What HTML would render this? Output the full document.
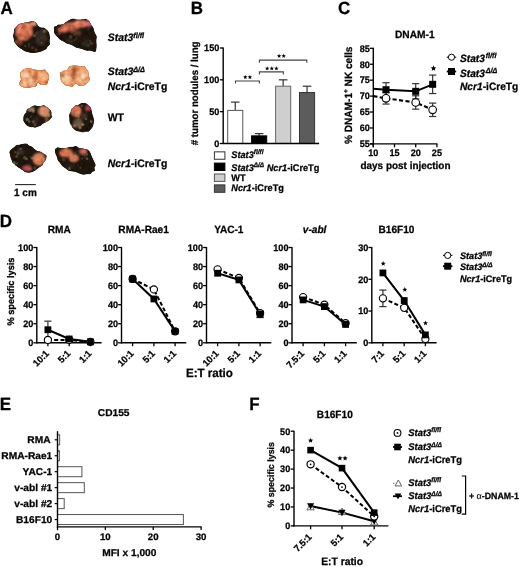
<!DOCTYPE html>
<html><head><meta charset="utf-8"><style>
html,body{margin:0;padding:0;background:#fff;width:520px;height:567px;overflow:hidden}
svg{display:block}
svg text{stroke:#000;stroke-width:0.25px;stroke-linejoin:round}
</style></head><body>
<svg width="520" height="567" viewBox="0 0 520 567" font-family='"Liberation Sans", sans-serif' text-rendering="geometricPrecision">
<rect width="520" height="567" fill="#fff"/>
<defs><filter id="soft" x="0" y="0" width="520" height="567" filterUnits="userSpaceOnUse"><feGaussianBlur stdDeviation="0.35"/></filter></defs>
<g filter="url(#soft)">
<text transform="translate(0.60,13.60) scale(1.0,1.04)" font-size="17" text-anchor="start" font-weight="bold" fill="#000">A</text>
<text transform="translate(190.80,13.70) scale(1.0,1.04)" font-size="17" text-anchor="start" font-weight="bold" fill="#000">B</text>
<text transform="translate(338.00,13.70) scale(1.0,1.04)" font-size="17" text-anchor="start" font-weight="bold" fill="#000">C</text>
<text transform="translate(-0.30,227.20) scale(1.0,1.04)" font-size="17" text-anchor="start" font-weight="bold" fill="#000">D</text>
<text transform="translate(-0.30,410.30) scale(1.0,1.04)" font-size="17" text-anchor="start" font-weight="bold" fill="#000">E</text>
<text transform="translate(249.20,410.20) scale(1.0,1.04)" font-size="17" text-anchor="start" font-weight="bold" fill="#000">F</text>
<defs><filter id="tex" x="0" y="0" width="110" height="190" filterUnits="userSpaceOnUse"><feTurbulence type="fractalNoise" baseFrequency="0.22" numOctaves="2" seed="5" result="n"/><feColorMatrix in="n" type="matrix" values="1 0 0 0 0  1 0 0 0 0  1 0 0 0 0  0 0 0 0 1" result="g"/><feComposite in="SourceGraphic" in2="g" operator="arithmetic" k1="1.1" k2="0.45" k3="0" k4="0" result="m"/><feComposite in="m" in2="SourceAlpha" operator="in"/></filter></defs>
<defs><filter id="lb" x="-30%" y="-30%" width="160%" height="160%"><feGaussianBlur stdDeviation="1.1"/></filter><filter id="lb2" x="-10%" y="-10%" width="120%" height="120%"><feGaussianBlur stdDeviation="0.45"/></filter><filter id="lb3" x="-50%" y="-50%" width="200%" height="200%"><feGaussianBlur stdDeviation="0.35"/></filter><filter id="lb4" x="-50%" y="-50%" width="200%" height="200%"><feGaussianBlur stdDeviation="0.6"/></filter></defs>
<clipPath id="lc0"><path d="M12.99,35.99 C13.00,34.97 13.52,33.70 13.72,32.51 C13.92,31.33 13.76,29.83 14.19,28.88 C14.62,27.94 15.69,27.55 16.31,26.84 C16.93,26.12 17.22,25.12 17.90,24.58 C18.59,24.04 19.53,23.84 20.43,23.58 C21.32,23.32 22.34,23.22 23.28,23.01 C24.21,22.80 25.10,22.52 26.05,22.32 C27.00,22.11 28.22,22.02 29.00,21.79 C29.78,21.57 30.16,21.08 30.74,20.96 C31.32,20.85 31.89,21.02 32.47,21.09 C33.04,21.17 33.63,21.23 34.19,21.40 C34.75,21.58 35.34,21.84 35.82,22.17 C36.31,22.51 36.71,22.85 37.08,23.41 C37.45,23.97 37.47,24.90 38.04,25.54 C38.61,26.17 39.47,26.87 40.52,27.25 C41.57,27.62 43.30,27.36 44.34,27.79 C45.38,28.23 46.01,29.17 46.76,29.87 C47.50,30.57 48.34,31.14 48.83,31.99 C49.32,32.85 49.48,34.01 49.69,35.00 C49.90,35.99 50.09,36.92 50.08,37.93 C50.07,38.94 49.68,39.96 49.65,41.05 C49.62,42.13 50.22,43.52 49.90,44.45 C49.58,45.38 48.36,45.85 47.73,46.64 C47.10,47.42 46.91,48.49 46.15,49.16 C45.38,49.84 44.17,50.23 43.14,50.71 C42.12,51.18 41.17,51.67 40.00,52.00 C38.83,52.34 37.44,52.56 36.11,52.73 C34.77,52.89 33.36,53.06 32.00,52.99 C30.64,52.93 29.27,52.69 27.95,52.34 C26.62,51.99 25.25,51.49 24.05,50.89 C22.85,50.30 21.81,49.51 20.74,48.76 C19.67,48.02 18.47,47.20 17.61,46.41 C16.76,45.62 16.22,44.85 15.61,44.02 C15.01,43.19 14.30,42.33 13.98,41.44 C13.66,40.55 13.85,39.59 13.68,38.68 C13.52,37.77 12.99,37.02 12.99,35.99 Z"/></clipPath>
<g filter="url(#lb2)"><g filter="url(#tex)"><path d="M12.99,35.99 C13.00,34.97 13.52,33.70 13.72,32.51 C13.92,31.33 13.76,29.83 14.19,28.88 C14.62,27.94 15.69,27.55 16.31,26.84 C16.93,26.12 17.22,25.12 17.90,24.58 C18.59,24.04 19.53,23.84 20.43,23.58 C21.32,23.32 22.34,23.22 23.28,23.01 C24.21,22.80 25.10,22.52 26.05,22.32 C27.00,22.11 28.22,22.02 29.00,21.79 C29.78,21.57 30.16,21.08 30.74,20.96 C31.32,20.85 31.89,21.02 32.47,21.09 C33.04,21.17 33.63,21.23 34.19,21.40 C34.75,21.58 35.34,21.84 35.82,22.17 C36.31,22.51 36.71,22.85 37.08,23.41 C37.45,23.97 37.47,24.90 38.04,25.54 C38.61,26.17 39.47,26.87 40.52,27.25 C41.57,27.62 43.30,27.36 44.34,27.79 C45.38,28.23 46.01,29.17 46.76,29.87 C47.50,30.57 48.34,31.14 48.83,31.99 C49.32,32.85 49.48,34.01 49.69,35.00 C49.90,35.99 50.09,36.92 50.08,37.93 C50.07,38.94 49.68,39.96 49.65,41.05 C49.62,42.13 50.22,43.52 49.90,44.45 C49.58,45.38 48.36,45.85 47.73,46.64 C47.10,47.42 46.91,48.49 46.15,49.16 C45.38,49.84 44.17,50.23 43.14,50.71 C42.12,51.18 41.17,51.67 40.00,52.00 C38.83,52.34 37.44,52.56 36.11,52.73 C34.77,52.89 33.36,53.06 32.00,52.99 C30.64,52.93 29.27,52.69 27.95,52.34 C26.62,51.99 25.25,51.49 24.05,50.89 C22.85,50.30 21.81,49.51 20.74,48.76 C19.67,48.02 18.47,47.20 17.61,46.41 C16.76,45.62 16.22,44.85 15.61,44.02 C15.01,43.19 14.30,42.33 13.98,41.44 C13.66,40.55 13.85,39.59 13.68,38.68 C13.52,37.77 12.99,37.02 12.99,35.99 Z" fill="#1e140e"/>
<g clip-path="url(#lc0)"><g filter="url(#lb)">
<ellipse cx="24" cy="31" rx="9" ry="9.5" fill="#e87a5c" opacity="0.95"/>
<ellipse cx="33.5" cy="23.5" rx="3.5" ry="2.6" fill="#f09a78" opacity="0.9"/>
<ellipse cx="19" cy="42" rx="4" ry="3" fill="#9a5236" opacity="0.7"/>
<ellipse cx="26" cy="37" rx="3" ry="1.2" fill="#6a3020" opacity="0.5"/>
<ellipse cx="41" cy="38" rx="6" ry="8" fill="#3a3426" opacity="0.7"/>
<ellipse cx="45" cy="31" rx="2.5" ry="2" fill="#5e5638" opacity="0.5"/>
<ellipse cx="22" cy="28" rx="0.9" ry="4" fill="#4a2418" opacity="0.55" transform="rotate(30 22 28)"/>
<ellipse cx="28.5" cy="34" rx="0.9" ry="4" fill="#4a2418" opacity="0.55" transform="rotate(-20 28.5 34)"/>
<ellipse cx="19" cy="36" rx="3" ry="0.9" fill="#4a2418" opacity="0.5" transform="rotate(10 19 36)"/>
<ellipse cx="20" cy="29.5" rx="2" ry="1.5" fill="#f8b090" opacity="0.7"/>
<ellipse cx="27" cy="26" rx="2" ry="1.4" fill="#f4a080" opacity="0.6"/>
</g>
<g filter="url(#lb4)">
<circle cx="25.7" cy="26.8" r="1.45" fill="#8a7a58" opacity="0.27"/>
<circle cx="32.9" cy="33.0" r="0.86" fill="#8a7a58" opacity="0.38"/>
<circle cx="16.1" cy="34.9" r="0.87" fill="#8a7a58" opacity="0.27"/>
<circle cx="29.1" cy="46.2" r="0.92" fill="#8a7a58" opacity="0.31"/>
<circle cx="36.0" cy="49.7" r="1.38" fill="#8a7a58" opacity="0.35"/>
<circle cx="43.8" cy="30.8" r="0.94" fill="#8a7a58" opacity="0.28"/>
<circle cx="25.2" cy="45.9" r="0.98" fill="#8a7a58" opacity="0.40"/>
<circle cx="36.4" cy="33.2" r="1.35" fill="#8a7a58" opacity="0.27"/>
<circle cx="16.8" cy="28.4" r="1.48" fill="#8a7a58" opacity="0.36"/>
<circle cx="25.4" cy="39.3" r="1.25" fill="#8a7a58" opacity="0.32"/>
<circle cx="41.7" cy="42.6" r="1.04" fill="#8a7a58" opacity="0.39"/>
<circle cx="32.6" cy="47.6" r="1.53" fill="#8a7a58" opacity="0.32"/>
<circle cx="28.9" cy="44.2" r="0.95" fill="#8a7a58" opacity="0.37"/>
<circle cx="16.1" cy="41.7" r="1.56" fill="#8a7a58" opacity="0.39"/>
<circle cx="44.4" cy="31.5" r="1.50" fill="#8a7a58" opacity="0.40"/>
<circle cx="34.4" cy="35.6" r="1.64" fill="#8a7a58" opacity="0.49"/>
</g>
</g></g></g>
<clipPath id="lc1"><path d="M53.89,26.90 C53.49,27.59 53.96,29.11 54.04,30.21 C54.11,31.31 53.86,32.43 54.36,33.51 C54.85,34.60 56.08,35.68 57.01,36.72 C57.94,37.76 58.87,38.95 59.92,39.76 C60.97,40.57 62.21,40.97 63.31,41.59 C64.42,42.22 65.13,42.91 66.55,43.52 C67.96,44.12 70.07,44.47 71.80,45.21 C73.53,45.95 75.27,47.33 76.91,47.96 C78.54,48.58 80.00,48.48 81.62,48.96 C83.24,49.44 85.11,50.49 86.62,50.82 C88.13,51.14 89.21,50.71 90.69,50.89 C92.16,51.06 94.50,52.21 95.46,51.87 C96.42,51.52 96.24,49.90 96.44,48.81 C96.65,47.72 96.71,46.68 96.71,45.33 C96.70,43.97 96.42,42.22 96.42,40.67 C96.42,39.13 97.01,37.48 96.71,36.06 C96.42,34.64 95.18,33.46 94.68,32.15 C94.17,30.84 94.23,29.44 93.69,28.21 C93.14,26.98 92.12,25.90 91.42,24.76 C90.73,23.63 90.13,22.20 89.52,21.39 C88.92,20.58 88.44,20.35 87.80,19.90 C87.17,19.44 86.64,18.77 85.70,18.66 C84.75,18.54 83.27,19.07 82.14,19.21 C81.00,19.35 79.90,19.50 78.88,19.49 C77.86,19.48 77.00,19.35 76.00,19.18 C75.01,19.00 73.92,18.37 72.91,18.43 C71.90,18.50 70.86,19.13 69.93,19.57 C69.01,20.00 68.16,20.56 67.35,21.05 C66.54,21.53 65.79,21.97 65.07,22.48 C64.34,22.99 63.73,23.76 63.00,24.11 C62.26,24.46 61.58,24.48 60.67,24.58 C59.75,24.69 58.22,24.48 57.52,24.73 C56.82,24.97 57.08,25.69 56.48,26.05 C55.87,26.42 54.30,26.21 53.89,26.90 Z"/></clipPath>
<g filter="url(#lb2)"><g filter="url(#tex)"><path d="M53.89,26.90 C53.49,27.59 53.96,29.11 54.04,30.21 C54.11,31.31 53.86,32.43 54.36,33.51 C54.85,34.60 56.08,35.68 57.01,36.72 C57.94,37.76 58.87,38.95 59.92,39.76 C60.97,40.57 62.21,40.97 63.31,41.59 C64.42,42.22 65.13,42.91 66.55,43.52 C67.96,44.12 70.07,44.47 71.80,45.21 C73.53,45.95 75.27,47.33 76.91,47.96 C78.54,48.58 80.00,48.48 81.62,48.96 C83.24,49.44 85.11,50.49 86.62,50.82 C88.13,51.14 89.21,50.71 90.69,50.89 C92.16,51.06 94.50,52.21 95.46,51.87 C96.42,51.52 96.24,49.90 96.44,48.81 C96.65,47.72 96.71,46.68 96.71,45.33 C96.70,43.97 96.42,42.22 96.42,40.67 C96.42,39.13 97.01,37.48 96.71,36.06 C96.42,34.64 95.18,33.46 94.68,32.15 C94.17,30.84 94.23,29.44 93.69,28.21 C93.14,26.98 92.12,25.90 91.42,24.76 C90.73,23.63 90.13,22.20 89.52,21.39 C88.92,20.58 88.44,20.35 87.80,19.90 C87.17,19.44 86.64,18.77 85.70,18.66 C84.75,18.54 83.27,19.07 82.14,19.21 C81.00,19.35 79.90,19.50 78.88,19.49 C77.86,19.48 77.00,19.35 76.00,19.18 C75.01,19.00 73.92,18.37 72.91,18.43 C71.90,18.50 70.86,19.13 69.93,19.57 C69.01,20.00 68.16,20.56 67.35,21.05 C66.54,21.53 65.79,21.97 65.07,22.48 C64.34,22.99 63.73,23.76 63.00,24.11 C62.26,24.46 61.58,24.48 60.67,24.58 C59.75,24.69 58.22,24.48 57.52,24.73 C56.82,24.97 57.08,25.69 56.48,26.05 C55.87,26.42 54.30,26.21 53.89,26.90 Z" fill="#1e140e"/>
<g clip-path="url(#lc1)"><g filter="url(#lb)">
<ellipse cx="70" cy="27" rx="9" ry="4.8" fill="#e87458" opacity="0.9"/>
<ellipse cx="80" cy="24" rx="8" ry="4" fill="#ec7e5e" opacity="0.9"/>
<ellipse cx="62" cy="30" rx="4.5" ry="3" fill="#e06c50" opacity="0.85"/>
<ellipse cx="88.5" cy="23.5" rx="3.6" ry="3.4" fill="#e06a80" opacity="0.85"/>
<ellipse cx="77" cy="33" rx="5" ry="2.6" fill="#7e4430" opacity="0.6"/>
<ellipse cx="70" cy="41" rx="4" ry="2" fill="#4a4030" opacity="0.6"/>
<ellipse cx="86" cy="43" rx="5" ry="3" fill="#3e4030" opacity="0.6"/>
<ellipse cx="66" cy="25" rx="0.9" ry="3" fill="#3a2018" opacity="0.6" transform="rotate(20 66 25)"/>
<ellipse cx="74" cy="27" rx="1" ry="3.5" fill="#3a2018" opacity="0.6" transform="rotate(-25 74 27)"/>
<ellipse cx="82" cy="25.5" rx="0.9" ry="3" fill="#3a2018" opacity="0.55" transform="rotate(15 82 25.5)"/>
<ellipse cx="70" cy="31" rx="3" ry="0.9" fill="#3a2018" opacity="0.5"/>
<ellipse cx="77" cy="22" rx="2" ry="1.2" fill="#f8a888" opacity="0.65"/>
<ellipse cx="64" cy="28.5" rx="1.6" ry="1.2" fill="#f49a78" opacity="0.6"/>
</g>
<g filter="url(#lb4)">
<circle cx="74.8" cy="39.9" r="0.86" fill="#7a7050" opacity="0.43"/>
<circle cx="88.4" cy="29.0" r="1.19" fill="#7a7050" opacity="0.42"/>
<circle cx="57.2" cy="34.1" r="0.97" fill="#7a7050" opacity="0.28"/>
<circle cx="61.3" cy="27.9" r="1.19" fill="#7a7050" opacity="0.47"/>
<circle cx="59.4" cy="33.7" r="1.35" fill="#7a7050" opacity="0.47"/>
<circle cx="88.3" cy="45.7" r="1.08" fill="#7a7050" opacity="0.35"/>
<circle cx="63.2" cy="27.5" r="1.03" fill="#7a7050" opacity="0.37"/>
<circle cx="79.3" cy="28.4" r="0.80" fill="#7a7050" opacity="0.35"/>
<circle cx="70.7" cy="37.1" r="1.75" fill="#7a7050" opacity="0.42"/>
<circle cx="76.4" cy="38.6" r="1.48" fill="#7a7050" opacity="0.26"/>
<circle cx="91.4" cy="43.3" r="1.67" fill="#7a7050" opacity="0.45"/>
<circle cx="71.6" cy="32.3" r="0.90" fill="#7a7050" opacity="0.41"/>
<circle cx="64.4" cy="25.5" r="1.14" fill="#7a7050" opacity="0.26"/>
<circle cx="60.3" cy="31.3" r="0.83" fill="#7a7050" opacity="0.47"/>
<circle cx="80.2" cy="25.1" r="1.05" fill="#7a7050" opacity="0.34"/>
<circle cx="70.5" cy="24.3" r="1.65" fill="#7a7050" opacity="0.50"/>
<circle cx="74.5" cy="34.7" r="0.89" fill="#7a7050" opacity="0.28"/>
<circle cx="69.7" cy="28.4" r="1.63" fill="#7a7050" opacity="0.29"/>
<circle cx="76.9" cy="25.0" r="1.34" fill="#7a7050" opacity="0.26"/>
<circle cx="90.0" cy="40.9" r="1.06" fill="#7a7050" opacity="0.34"/>
</g>
</g></g></g>
<clipPath id="lc2"><path d="M19.87,73.22 C19.71,74.05 20.13,75.34 20.30,76.38 C20.47,77.41 21.01,78.46 20.88,79.45 C20.76,80.44 19.78,81.43 19.54,82.33 C19.29,83.24 19.15,84.16 19.40,84.86 C19.65,85.56 20.33,86.07 21.03,86.51 C21.73,86.95 22.72,87.26 23.61,87.51 C24.50,87.76 25.41,87.92 26.38,88.01 C27.36,88.11 28.45,88.25 29.47,88.07 C30.49,87.89 31.45,87.20 32.49,86.95 C33.53,86.70 34.95,86.95 35.70,86.57 C36.45,86.19 36.62,85.35 36.99,84.68 C37.37,84.00 37.44,82.62 37.94,82.55 C38.45,82.48 39.49,83.84 40.01,84.25 C40.53,84.66 40.43,84.91 41.06,84.99 C41.68,85.07 42.82,84.79 43.78,84.71 C44.74,84.63 46.13,85.01 46.83,84.51 C47.54,84.01 47.69,82.63 48.02,81.70 C48.35,80.78 48.59,79.93 48.81,78.97 C49.04,78.01 49.48,76.91 49.35,75.94 C49.23,74.98 48.57,73.89 48.06,73.15 C47.56,72.41 46.84,72.10 46.33,71.49 C45.83,70.88 45.88,69.76 45.03,69.50 C44.18,69.24 42.42,69.84 41.22,69.94 C40.02,70.04 38.89,70.18 37.82,70.12 C36.76,70.07 35.82,69.83 34.85,69.61 C33.88,69.39 32.91,69.05 31.99,68.79 C31.07,68.53 30.16,68.15 29.32,68.04 C28.47,67.94 27.73,68.05 26.93,68.16 C26.14,68.26 25.29,68.42 24.57,68.67 C23.85,68.92 23.17,69.21 22.62,69.67 C22.07,70.14 21.73,70.85 21.27,71.44 C20.81,72.03 20.03,72.40 19.87,73.22 Z"/></clipPath>
<g filter="url(#lb2)"><g filter="url(#tex)"><path d="M19.87,73.22 C19.71,74.05 20.13,75.34 20.30,76.38 C20.47,77.41 21.01,78.46 20.88,79.45 C20.76,80.44 19.78,81.43 19.54,82.33 C19.29,83.24 19.15,84.16 19.40,84.86 C19.65,85.56 20.33,86.07 21.03,86.51 C21.73,86.95 22.72,87.26 23.61,87.51 C24.50,87.76 25.41,87.92 26.38,88.01 C27.36,88.11 28.45,88.25 29.47,88.07 C30.49,87.89 31.45,87.20 32.49,86.95 C33.53,86.70 34.95,86.95 35.70,86.57 C36.45,86.19 36.62,85.35 36.99,84.68 C37.37,84.00 37.44,82.62 37.94,82.55 C38.45,82.48 39.49,83.84 40.01,84.25 C40.53,84.66 40.43,84.91 41.06,84.99 C41.68,85.07 42.82,84.79 43.78,84.71 C44.74,84.63 46.13,85.01 46.83,84.51 C47.54,84.01 47.69,82.63 48.02,81.70 C48.35,80.78 48.59,79.93 48.81,78.97 C49.04,78.01 49.48,76.91 49.35,75.94 C49.23,74.98 48.57,73.89 48.06,73.15 C47.56,72.41 46.84,72.10 46.33,71.49 C45.83,70.88 45.88,69.76 45.03,69.50 C44.18,69.24 42.42,69.84 41.22,69.94 C40.02,70.04 38.89,70.18 37.82,70.12 C36.76,70.07 35.82,69.83 34.85,69.61 C33.88,69.39 32.91,69.05 31.99,68.79 C31.07,68.53 30.16,68.15 29.32,68.04 C28.47,67.94 27.73,68.05 26.93,68.16 C26.14,68.26 25.29,68.42 24.57,68.67 C23.85,68.92 23.17,69.21 22.62,69.67 C22.07,70.14 21.73,70.85 21.27,71.44 C20.81,72.03 20.03,72.40 19.87,73.22 Z" fill="#e89868"/>
<g clip-path="url(#lc2)"><g filter="url(#lb)">
<ellipse cx="25" cy="75" rx="4" ry="3.5" fill="#fcd8b8" opacity="0.85"/>
<ellipse cx="36" cy="76" rx="2.5" ry="5" fill="#b04c20" opacity="0.65"/>
<ellipse cx="43" cy="76" rx="3.5" ry="3" fill="#f8c8a0" opacity="0.75"/>
<ellipse cx="24" cy="84" rx="3" ry="2" fill="#f8d0ac" opacity="0.75"/>
<ellipse cx="31" cy="82" rx="3" ry="3" fill="#fcd8b8" opacity="0.6"/>
<ellipse cx="46" cy="82" rx="2" ry="2" fill="#b85020" opacity="0.6"/>
<ellipse cx="29" cy="71" rx="3" ry="2" fill="#c8602e" opacity="0.55"/>
<ellipse cx="38" cy="85" rx="2.5" ry="2" fill="#a84820" opacity="0.6"/>
<ellipse cx="21" cy="79" rx="1.5" ry="3" fill="#c06030" opacity="0.5"/>
<ellipse cx="33" cy="74" rx="2" ry="2" fill="#f6c098" opacity="0.5"/>
</g>
<path d="M19.87,73.22 C19.71,74.05 20.13,75.34 20.30,76.38 C20.47,77.41 21.01,78.46 20.88,79.45 C20.76,80.44 19.78,81.43 19.54,82.33 C19.29,83.24 19.15,84.16 19.40,84.86 C19.65,85.56 20.33,86.07 21.03,86.51 C21.73,86.95 22.72,87.26 23.61,87.51 C24.50,87.76 25.41,87.92 26.38,88.01 C27.36,88.11 28.45,88.25 29.47,88.07 C30.49,87.89 31.45,87.20 32.49,86.95 C33.53,86.70 34.95,86.95 35.70,86.57 C36.45,86.19 36.62,85.35 36.99,84.68 C37.37,84.00 37.44,82.62 37.94,82.55 C38.45,82.48 39.49,83.84 40.01,84.25 C40.53,84.66 40.43,84.91 41.06,84.99 C41.68,85.07 42.82,84.79 43.78,84.71 C44.74,84.63 46.13,85.01 46.83,84.51 C47.54,84.01 47.69,82.63 48.02,81.70 C48.35,80.78 48.59,79.93 48.81,78.97 C49.04,78.01 49.48,76.91 49.35,75.94 C49.23,74.98 48.57,73.89 48.06,73.15 C47.56,72.41 46.84,72.10 46.33,71.49 C45.83,70.88 45.88,69.76 45.03,69.50 C44.18,69.24 42.42,69.84 41.22,69.94 C40.02,70.04 38.89,70.18 37.82,70.12 C36.76,70.07 35.82,69.83 34.85,69.61 C33.88,69.39 32.91,69.05 31.99,68.79 C31.07,68.53 30.16,68.15 29.32,68.04 C28.47,67.94 27.73,68.05 26.93,68.16 C26.14,68.26 25.29,68.42 24.57,68.67 C23.85,68.92 23.17,69.21 22.62,69.67 C22.07,70.14 21.73,70.85 21.27,71.44 C20.81,72.03 20.03,72.40 19.87,73.22 Z" fill="none" stroke="#c06838" stroke-width="1.4" opacity="0.6" filter="url(#lb3)"/>
</g></g></g>
<clipPath id="lc3"><path d="M59.63,72.62 C59.52,73.37 60.32,75.28 60.51,76.59 C60.69,77.90 60.40,79.36 60.75,80.48 C61.11,81.61 61.86,82.51 62.62,83.35 C63.39,84.19 64.32,85.11 65.33,85.53 C66.35,85.96 67.62,85.63 68.70,85.89 C69.79,86.15 71.01,87.14 71.83,87.11 C72.66,87.08 73.05,86.27 73.64,85.72 C74.22,85.16 74.72,83.96 75.34,83.78 C75.97,83.60 76.65,84.25 77.39,84.64 C78.12,85.03 78.84,85.93 79.76,86.11 C80.68,86.30 82.00,86.00 82.93,85.77 C83.86,85.53 84.50,85.25 85.33,84.70 C86.15,84.15 87.15,83.30 87.88,82.46 C88.60,81.62 89.50,80.86 89.68,79.67 C89.85,78.48 89.16,76.73 88.93,75.30 C88.69,73.87 88.67,72.13 88.28,71.07 C87.89,70.02 87.10,69.69 86.59,68.98 C86.07,68.27 85.65,67.33 85.19,66.82 C84.73,66.31 84.49,66.01 83.81,65.93 C83.14,65.85 82.19,66.42 81.14,66.35 C80.10,66.28 78.78,65.64 77.53,65.52 C76.27,65.39 74.65,65.59 73.62,65.61 C72.60,65.63 72.11,65.48 71.39,65.64 C70.67,65.79 69.91,66.05 69.31,66.53 C68.72,67.01 68.31,67.90 67.80,68.53 C67.28,69.15 66.92,69.95 66.21,70.29 C65.51,70.62 64.24,70.37 63.55,70.55 C62.87,70.74 62.48,71.16 62.09,71.41 C61.69,71.66 61.59,71.87 61.18,72.07 C60.77,72.27 59.75,71.87 59.63,72.62 Z"/></clipPath>
<g filter="url(#lb2)"><g filter="url(#tex)"><path d="M59.63,72.62 C59.52,73.37 60.32,75.28 60.51,76.59 C60.69,77.90 60.40,79.36 60.75,80.48 C61.11,81.61 61.86,82.51 62.62,83.35 C63.39,84.19 64.32,85.11 65.33,85.53 C66.35,85.96 67.62,85.63 68.70,85.89 C69.79,86.15 71.01,87.14 71.83,87.11 C72.66,87.08 73.05,86.27 73.64,85.72 C74.22,85.16 74.72,83.96 75.34,83.78 C75.97,83.60 76.65,84.25 77.39,84.64 C78.12,85.03 78.84,85.93 79.76,86.11 C80.68,86.30 82.00,86.00 82.93,85.77 C83.86,85.53 84.50,85.25 85.33,84.70 C86.15,84.15 87.15,83.30 87.88,82.46 C88.60,81.62 89.50,80.86 89.68,79.67 C89.85,78.48 89.16,76.73 88.93,75.30 C88.69,73.87 88.67,72.13 88.28,71.07 C87.89,70.02 87.10,69.69 86.59,68.98 C86.07,68.27 85.65,67.33 85.19,66.82 C84.73,66.31 84.49,66.01 83.81,65.93 C83.14,65.85 82.19,66.42 81.14,66.35 C80.10,66.28 78.78,65.64 77.53,65.52 C76.27,65.39 74.65,65.59 73.62,65.61 C72.60,65.63 72.11,65.48 71.39,65.64 C70.67,65.79 69.91,66.05 69.31,66.53 C68.72,67.01 68.31,67.90 67.80,68.53 C67.28,69.15 66.92,69.95 66.21,70.29 C65.51,70.62 64.24,70.37 63.55,70.55 C62.87,70.74 62.48,71.16 62.09,71.41 C61.69,71.66 61.59,71.87 61.18,72.07 C60.77,72.27 59.75,71.87 59.63,72.62 Z" fill="#eaa070"/>
<g clip-path="url(#lc3)"><g filter="url(#lb)">
<ellipse cx="73.5" cy="74" rx="2.2" ry="7" fill="#9c3e1a" opacity="0.65"/>
<ellipse cx="66" cy="79" rx="4" ry="4" fill="#fcd8b4" opacity="0.75"/>
<ellipse cx="82" cy="77" rx="3.5" ry="5" fill="#fcd4b0" opacity="0.75"/>
<ellipse cx="63.5" cy="76" rx="1.4" ry="1.4" fill="#5a2a14" opacity="0.85"/>
<ellipse cx="77" cy="69" rx="3" ry="2" fill="#c05a28" opacity="0.6"/>
<ellipse cx="86" cy="70" rx="2" ry="2" fill="#f6bc90" opacity="0.6"/>
<ellipse cx="70" cy="85" rx="3" ry="1.6" fill="#b85428" opacity="0.55"/>
<ellipse cx="79" cy="84" rx="2" ry="1.5" fill="#b85428" opacity="0.5"/>
<ellipse cx="68" cy="70" rx="2" ry="2" fill="#f4c49c" opacity="0.5"/>
</g>
<path d="M59.63,72.62 C59.52,73.37 60.32,75.28 60.51,76.59 C60.69,77.90 60.40,79.36 60.75,80.48 C61.11,81.61 61.86,82.51 62.62,83.35 C63.39,84.19 64.32,85.11 65.33,85.53 C66.35,85.96 67.62,85.63 68.70,85.89 C69.79,86.15 71.01,87.14 71.83,87.11 C72.66,87.08 73.05,86.27 73.64,85.72 C74.22,85.16 74.72,83.96 75.34,83.78 C75.97,83.60 76.65,84.25 77.39,84.64 C78.12,85.03 78.84,85.93 79.76,86.11 C80.68,86.30 82.00,86.00 82.93,85.77 C83.86,85.53 84.50,85.25 85.33,84.70 C86.15,84.15 87.15,83.30 87.88,82.46 C88.60,81.62 89.50,80.86 89.68,79.67 C89.85,78.48 89.16,76.73 88.93,75.30 C88.69,73.87 88.67,72.13 88.28,71.07 C87.89,70.02 87.10,69.69 86.59,68.98 C86.07,68.27 85.65,67.33 85.19,66.82 C84.73,66.31 84.49,66.01 83.81,65.93 C83.14,65.85 82.19,66.42 81.14,66.35 C80.10,66.28 78.78,65.64 77.53,65.52 C76.27,65.39 74.65,65.59 73.62,65.61 C72.60,65.63 72.11,65.48 71.39,65.64 C70.67,65.79 69.91,66.05 69.31,66.53 C68.72,67.01 68.31,67.90 67.80,68.53 C67.28,69.15 66.92,69.95 66.21,70.29 C65.51,70.62 64.24,70.37 63.55,70.55 C62.87,70.74 62.48,71.16 62.09,71.41 C61.69,71.66 61.59,71.87 61.18,72.07 C60.77,72.27 59.75,71.87 59.63,72.62 Z" fill="none" stroke="#c06838" stroke-width="1.4" opacity="0.6" filter="url(#lb3)"/>
</g></g></g>
<clipPath id="lc4"><path d="M23.27,118.98 C23.28,118.30 23.22,117.66 23.35,116.97 C23.47,116.29 23.57,115.68 24.01,114.90 C24.45,114.12 25.48,113.24 25.97,112.31 C26.45,111.38 26.40,109.99 26.92,109.32 C27.44,108.66 28.46,108.70 29.09,108.32 C29.72,107.95 30.09,107.42 30.70,107.05 C31.31,106.69 32.05,106.43 32.76,106.12 C33.46,105.81 34.14,105.24 34.94,105.20 C35.74,105.16 36.69,105.75 37.55,105.88 C38.42,106.01 39.38,106.04 40.14,105.98 C40.90,105.91 41.45,105.66 42.12,105.50 C42.79,105.35 43.57,104.90 44.17,105.05 C44.77,105.20 45.12,106.04 45.72,106.40 C46.32,106.75 47.08,106.70 47.77,107.18 C48.45,107.66 49.20,108.52 49.82,109.27 C50.44,110.02 51.20,110.82 51.48,111.70 C51.77,112.57 51.45,113.58 51.54,114.50 C51.62,115.42 52.18,116.42 51.97,117.21 C51.77,118.00 50.92,118.59 50.31,119.24 C49.70,119.88 49.10,120.53 48.31,121.07 C47.52,121.60 46.46,121.98 45.58,122.44 C44.69,122.91 43.79,123.29 42.99,123.86 C42.20,124.42 41.65,125.36 40.82,125.85 C39.99,126.34 38.94,126.49 38.01,126.78 C37.08,127.08 36.11,127.56 35.25,127.63 C34.39,127.69 33.72,127.28 32.82,127.16 C31.93,127.04 30.81,127.12 29.89,126.91 C28.97,126.70 28.02,126.29 27.31,125.88 C26.59,125.48 26.08,125.01 25.61,124.47 C25.14,123.93 24.88,123.20 24.50,122.63 C24.12,122.06 23.52,121.66 23.31,121.06 C23.11,120.45 23.27,119.66 23.27,118.98 Z"/></clipPath>
<g filter="url(#lb2)"><g filter="url(#tex)"><path d="M23.27,118.98 C23.28,118.30 23.22,117.66 23.35,116.97 C23.47,116.29 23.57,115.68 24.01,114.90 C24.45,114.12 25.48,113.24 25.97,112.31 C26.45,111.38 26.40,109.99 26.92,109.32 C27.44,108.66 28.46,108.70 29.09,108.32 C29.72,107.95 30.09,107.42 30.70,107.05 C31.31,106.69 32.05,106.43 32.76,106.12 C33.46,105.81 34.14,105.24 34.94,105.20 C35.74,105.16 36.69,105.75 37.55,105.88 C38.42,106.01 39.38,106.04 40.14,105.98 C40.90,105.91 41.45,105.66 42.12,105.50 C42.79,105.35 43.57,104.90 44.17,105.05 C44.77,105.20 45.12,106.04 45.72,106.40 C46.32,106.75 47.08,106.70 47.77,107.18 C48.45,107.66 49.20,108.52 49.82,109.27 C50.44,110.02 51.20,110.82 51.48,111.70 C51.77,112.57 51.45,113.58 51.54,114.50 C51.62,115.42 52.18,116.42 51.97,117.21 C51.77,118.00 50.92,118.59 50.31,119.24 C49.70,119.88 49.10,120.53 48.31,121.07 C47.52,121.60 46.46,121.98 45.58,122.44 C44.69,122.91 43.79,123.29 42.99,123.86 C42.20,124.42 41.65,125.36 40.82,125.85 C39.99,126.34 38.94,126.49 38.01,126.78 C37.08,127.08 36.11,127.56 35.25,127.63 C34.39,127.69 33.72,127.28 32.82,127.16 C31.93,127.04 30.81,127.12 29.89,126.91 C28.97,126.70 28.02,126.29 27.31,125.88 C26.59,125.48 26.08,125.01 25.61,124.47 C25.14,123.93 24.88,123.20 24.50,122.63 C24.12,122.06 23.52,121.66 23.31,121.06 C23.11,120.45 23.27,119.66 23.27,118.98 Z" fill="#1e140e"/>
<g clip-path="url(#lc4)"><g filter="url(#lb)">
<ellipse cx="44" cy="111" rx="6" ry="5.5" fill="#e89870" opacity="0.9"/>
<ellipse cx="31.5" cy="109" rx="3" ry="2" fill="#d8b088" opacity="0.7"/>
<ellipse cx="36" cy="120" rx="3" ry="3" fill="#4a3a28" opacity="0.5"/>
<ellipse cx="47" cy="119" rx="2.5" ry="2" fill="#c87850" opacity="0.6"/>
</g>
<g filter="url(#lb4)">
<circle cx="29.3" cy="121.5" r="1.33" fill="#b09a70" opacity="0.44"/>
<circle cx="33.3" cy="111.2" r="1.61" fill="#b09a70" opacity="0.50"/>
<circle cx="46.3" cy="122.2" r="1.62" fill="#b09a70" opacity="0.43"/>
<circle cx="30.8" cy="116.7" r="1.16" fill="#b09a70" opacity="0.26"/>
<circle cx="25.9" cy="112.3" r="1.06" fill="#b09a70" opacity="0.42"/>
<circle cx="48.8" cy="115.4" r="1.74" fill="#b09a70" opacity="0.50"/>
<circle cx="48.8" cy="113.9" r="1.02" fill="#b09a70" opacity="0.31"/>
<circle cx="30.1" cy="110.8" r="1.42" fill="#b09a70" opacity="0.48"/>
<circle cx="46.0" cy="116.0" r="1.45" fill="#b09a70" opacity="0.45"/>
<circle cx="27.3" cy="119.4" r="1.71" fill="#b09a70" opacity="0.45"/>
<circle cx="43.7" cy="116.0" r="0.98" fill="#b09a70" opacity="0.45"/>
<circle cx="33.4" cy="122.1" r="1.77" fill="#b09a70" opacity="0.35"/>
<circle cx="35.1" cy="124.8" r="1.52" fill="#b09a70" opacity="0.29"/>
<circle cx="28.3" cy="109.8" r="1.70" fill="#b09a70" opacity="0.45"/>
</g>
</g></g></g>
<clipPath id="lc5"><path d="M77.40,105.18 C78.01,104.99 78.68,104.34 79.36,103.99 C80.05,103.64 80.72,103.22 81.50,103.07 C82.28,102.93 83.22,103.03 84.06,103.10 C84.90,103.17 85.82,103.13 86.55,103.48 C87.27,103.84 87.77,104.66 88.40,105.22 C89.03,105.79 89.80,106.12 90.33,106.86 C90.85,107.60 91.27,108.67 91.56,109.66 C91.86,110.65 91.85,111.71 92.11,112.81 C92.38,113.91 92.84,115.07 93.17,116.25 C93.50,117.42 94.01,118.66 94.10,119.87 C94.19,121.08 93.89,122.37 93.69,123.53 C93.50,124.69 93.38,125.88 92.92,126.85 C92.47,127.82 91.66,128.55 90.96,129.35 C90.26,130.15 89.59,131.22 88.72,131.64 C87.85,132.06 86.70,131.72 85.73,131.84 C84.76,131.97 83.84,132.44 82.90,132.40 C81.96,132.36 81.02,131.80 80.07,131.63 C79.13,131.46 78.10,131.64 77.21,131.35 C76.33,131.07 75.51,130.49 74.76,129.93 C74.00,129.38 73.28,128.75 72.68,128.02 C72.07,127.29 71.65,126.43 71.14,125.56 C70.63,124.69 69.93,123.92 69.63,122.78 C69.33,121.65 69.41,120.08 69.32,118.74 C69.23,117.41 68.89,115.89 69.09,114.78 C69.28,113.67 70.14,113.02 70.49,112.06 C70.84,111.10 70.80,109.76 71.20,109.02 C71.60,108.29 72.33,108.09 72.88,107.64 C73.43,107.18 74.04,106.69 74.51,106.27 C74.98,105.86 75.22,105.32 75.70,105.13 C76.18,104.95 76.79,105.37 77.40,105.18 Z"/></clipPath>
<g filter="url(#lb2)"><g filter="url(#tex)"><path d="M77.40,105.18 C78.01,104.99 78.68,104.34 79.36,103.99 C80.05,103.64 80.72,103.22 81.50,103.07 C82.28,102.93 83.22,103.03 84.06,103.10 C84.90,103.17 85.82,103.13 86.55,103.48 C87.27,103.84 87.77,104.66 88.40,105.22 C89.03,105.79 89.80,106.12 90.33,106.86 C90.85,107.60 91.27,108.67 91.56,109.66 C91.86,110.65 91.85,111.71 92.11,112.81 C92.38,113.91 92.84,115.07 93.17,116.25 C93.50,117.42 94.01,118.66 94.10,119.87 C94.19,121.08 93.89,122.37 93.69,123.53 C93.50,124.69 93.38,125.88 92.92,126.85 C92.47,127.82 91.66,128.55 90.96,129.35 C90.26,130.15 89.59,131.22 88.72,131.64 C87.85,132.06 86.70,131.72 85.73,131.84 C84.76,131.97 83.84,132.44 82.90,132.40 C81.96,132.36 81.02,131.80 80.07,131.63 C79.13,131.46 78.10,131.64 77.21,131.35 C76.33,131.07 75.51,130.49 74.76,129.93 C74.00,129.38 73.28,128.75 72.68,128.02 C72.07,127.29 71.65,126.43 71.14,125.56 C70.63,124.69 69.93,123.92 69.63,122.78 C69.33,121.65 69.41,120.08 69.32,118.74 C69.23,117.41 68.89,115.89 69.09,114.78 C69.28,113.67 70.14,113.02 70.49,112.06 C70.84,111.10 70.80,109.76 71.20,109.02 C71.60,108.29 72.33,108.09 72.88,107.64 C73.43,107.18 74.04,106.69 74.51,106.27 C74.98,105.86 75.22,105.32 75.70,105.13 C76.18,104.95 76.79,105.37 77.40,105.18 Z" fill="#1e140e"/>
<g clip-path="url(#lc5)"><g filter="url(#lb)">
<ellipse cx="76" cy="111" rx="5.5" ry="5.5" fill="#ee8060" opacity="0.9"/>
<ellipse cx="88" cy="108" rx="3" ry="3" fill="#e05868" opacity="0.8"/>
<ellipse cx="78" cy="123" rx="5" ry="5" fill="#9a7a58" opacity="0.6"/>
<ellipse cx="84" cy="116" rx="3" ry="3" fill="#a08060" opacity="0.4"/>
</g>
<g filter="url(#lb4)">
<circle cx="74.2" cy="126.0" r="1.78" fill="#b8a078" opacity="0.41"/>
<circle cx="78.4" cy="119.0" r="0.93" fill="#b8a078" opacity="0.25"/>
<circle cx="91.2" cy="121.6" r="1.33" fill="#b8a078" opacity="0.48"/>
<circle cx="80.1" cy="127.2" r="1.63" fill="#b8a078" opacity="0.30"/>
<circle cx="76.4" cy="112.6" r="1.04" fill="#b8a078" opacity="0.40"/>
<circle cx="76.5" cy="115.8" r="0.93" fill="#b8a078" opacity="0.48"/>
<circle cx="78.5" cy="116.7" r="1.38" fill="#b8a078" opacity="0.48"/>
<circle cx="79.9" cy="128.3" r="1.30" fill="#b8a078" opacity="0.38"/>
<circle cx="82.0" cy="105.7" r="1.24" fill="#b8a078" opacity="0.30"/>
<circle cx="71.3" cy="125.3" r="0.97" fill="#b8a078" opacity="0.37"/>
<circle cx="86.1" cy="119.2" r="1.13" fill="#b8a078" opacity="0.38"/>
<circle cx="82.6" cy="125.0" r="0.91" fill="#b8a078" opacity="0.39"/>
<circle cx="76.3" cy="112.2" r="1.57" fill="#b8a078" opacity="0.38"/>
<circle cx="82.8" cy="124.4" r="1.71" fill="#b8a078" opacity="0.36"/>
</g>
</g></g></g>
<clipPath id="lc6"><path d="M14.17,146.89 C15.03,146.23 15.63,145.49 16.61,145.09 C17.59,144.69 18.93,144.72 20.03,144.48 C21.12,144.25 22.06,143.83 23.16,143.68 C24.26,143.52 25.61,143.28 26.61,143.56 C27.61,143.85 28.28,144.91 29.15,145.39 C30.02,145.87 30.97,145.86 31.83,146.42 C32.69,146.99 33.46,148.04 34.32,148.77 C35.18,149.50 35.99,150.35 36.99,150.81 C38.00,151.26 39.39,151.19 40.34,151.50 C41.30,151.80 42.05,152.21 42.71,152.64 C43.37,153.07 43.66,153.61 44.28,154.06 C44.90,154.51 46.08,154.71 46.44,155.35 C46.80,155.99 46.61,157.05 46.46,157.90 C46.31,158.75 45.99,159.65 45.53,160.44 C45.07,161.22 44.18,161.83 43.71,162.61 C43.23,163.39 43.35,164.37 42.68,165.13 C42.02,165.89 40.70,166.51 39.73,167.17 C38.76,167.84 37.80,168.45 36.87,169.14 C35.94,169.83 35.12,170.76 34.13,171.32 C33.14,171.87 31.96,172.22 30.92,172.47 C29.89,172.73 28.94,172.87 27.95,172.85 C26.96,172.82 25.77,172.66 24.99,172.33 C24.20,172.00 23.83,171.32 23.22,170.84 C22.61,170.37 22.14,170.06 21.30,169.48 C20.46,168.90 19.20,168.10 18.17,167.38 C17.15,166.66 15.81,165.71 15.15,165.14 C14.50,164.57 14.66,164.28 14.25,163.94 C13.83,163.60 13.08,163.67 12.64,163.08 C12.21,162.50 11.99,161.31 11.64,160.45 C11.29,159.58 10.83,158.83 10.55,157.90 C10.26,156.98 10.14,155.91 9.94,154.88 C9.75,153.85 9.13,152.70 9.38,151.72 C9.62,150.75 10.63,149.83 11.43,149.03 C12.23,148.22 13.30,147.54 14.17,146.89 Z"/></clipPath>
<g filter="url(#lb2)"><g filter="url(#tex)"><path d="M14.17,146.89 C15.03,146.23 15.63,145.49 16.61,145.09 C17.59,144.69 18.93,144.72 20.03,144.48 C21.12,144.25 22.06,143.83 23.16,143.68 C24.26,143.52 25.61,143.28 26.61,143.56 C27.61,143.85 28.28,144.91 29.15,145.39 C30.02,145.87 30.97,145.86 31.83,146.42 C32.69,146.99 33.46,148.04 34.32,148.77 C35.18,149.50 35.99,150.35 36.99,150.81 C38.00,151.26 39.39,151.19 40.34,151.50 C41.30,151.80 42.05,152.21 42.71,152.64 C43.37,153.07 43.66,153.61 44.28,154.06 C44.90,154.51 46.08,154.71 46.44,155.35 C46.80,155.99 46.61,157.05 46.46,157.90 C46.31,158.75 45.99,159.65 45.53,160.44 C45.07,161.22 44.18,161.83 43.71,162.61 C43.23,163.39 43.35,164.37 42.68,165.13 C42.02,165.89 40.70,166.51 39.73,167.17 C38.76,167.84 37.80,168.45 36.87,169.14 C35.94,169.83 35.12,170.76 34.13,171.32 C33.14,171.87 31.96,172.22 30.92,172.47 C29.89,172.73 28.94,172.87 27.95,172.85 C26.96,172.82 25.77,172.66 24.99,172.33 C24.20,172.00 23.83,171.32 23.22,170.84 C22.61,170.37 22.14,170.06 21.30,169.48 C20.46,168.90 19.20,168.10 18.17,167.38 C17.15,166.66 15.81,165.71 15.15,165.14 C14.50,164.57 14.66,164.28 14.25,163.94 C13.83,163.60 13.08,163.67 12.64,163.08 C12.21,162.50 11.99,161.31 11.64,160.45 C11.29,159.58 10.83,158.83 10.55,157.90 C10.26,156.98 10.14,155.91 9.94,154.88 C9.75,153.85 9.13,152.70 9.38,151.72 C9.62,150.75 10.63,149.83 11.43,149.03 C12.23,148.22 13.30,147.54 14.17,146.89 Z" fill="#1e140e"/>
<g clip-path="url(#lc6)"><g filter="url(#lb)">
<ellipse cx="39" cy="159" rx="6.5" ry="6.5" fill="#ec8a62" opacity="0.9"/>
<ellipse cx="27" cy="168" rx="5" ry="3" fill="#d05858" opacity="0.85"/>
<ellipse cx="20" cy="152" rx="4" ry="3" fill="#6a5a40" opacity="0.4"/>
</g>
<g filter="url(#lb4)">
<circle cx="31.9" cy="158.2" r="1.31" fill="#9a8a60" opacity="0.42"/>
<circle cx="26.6" cy="158.9" r="1.28" fill="#9a8a60" opacity="0.49"/>
<circle cx="34.8" cy="167.7" r="1.74" fill="#9a8a60" opacity="0.31"/>
<circle cx="30.2" cy="169.4" r="1.64" fill="#9a8a60" opacity="0.28"/>
<circle cx="15.6" cy="156.6" r="0.87" fill="#9a8a60" opacity="0.31"/>
<circle cx="14.0" cy="162.4" r="1.58" fill="#9a8a60" opacity="0.47"/>
<circle cx="16.7" cy="163.6" r="1.46" fill="#9a8a60" opacity="0.29"/>
<circle cx="24.8" cy="157.8" r="1.79" fill="#9a8a60" opacity="0.46"/>
<circle cx="17.0" cy="156.4" r="1.32" fill="#9a8a60" opacity="0.33"/>
<circle cx="18.1" cy="153.5" r="1.52" fill="#9a8a60" opacity="0.25"/>
<circle cx="30.0" cy="156.6" r="0.82" fill="#9a8a60" opacity="0.33"/>
<circle cx="32.3" cy="158.4" r="0.86" fill="#9a8a60" opacity="0.50"/>
<circle cx="15.1" cy="152.1" r="0.84" fill="#9a8a60" opacity="0.44"/>
<circle cx="20.6" cy="148.7" r="1.22" fill="#9a8a60" opacity="0.48"/>
</g>
</g></g></g>
<clipPath id="lc7"><path d="M54.91,149.16 C54.69,149.77 54.75,150.93 54.91,151.88 C55.07,152.83 55.53,153.93 55.88,154.88 C56.23,155.83 56.71,156.68 57.01,157.58 C57.31,158.49 57.16,159.31 57.69,160.28 C58.23,161.26 59.41,162.38 60.22,163.43 C61.04,164.47 61.70,165.69 62.59,166.55 C63.48,167.41 64.56,167.88 65.56,168.58 C66.56,169.27 67.47,170.22 68.60,170.70 C69.73,171.18 71.10,171.21 72.33,171.46 C73.55,171.70 74.72,171.78 75.96,172.16 C77.21,172.53 78.51,173.24 79.78,173.68 C81.05,174.11 82.40,174.64 83.60,174.75 C84.80,174.86 85.85,174.45 86.98,174.35 C88.11,174.25 89.49,174.52 90.36,174.17 C91.23,173.82 91.46,172.80 92.22,172.25 C92.99,171.69 94.55,171.63 94.94,170.84 C95.33,170.06 94.43,168.52 94.55,167.54 C94.68,166.55 95.83,166.13 95.69,164.93 C95.55,163.72 94.41,161.82 93.74,160.30 C93.07,158.77 92.23,157.10 91.65,155.76 C91.07,154.43 90.94,153.34 90.27,152.28 C89.61,151.22 88.54,149.96 87.65,149.40 C86.76,148.83 85.83,149.09 84.95,148.88 C84.08,148.67 83.38,148.35 82.39,148.15 C81.40,147.96 80.06,148.09 79.00,147.72 C77.94,147.36 77.06,146.15 76.03,145.97 C74.99,145.79 73.87,146.51 72.81,146.63 C71.76,146.75 70.73,146.54 69.70,146.70 C68.68,146.87 67.78,147.41 66.67,147.63 C65.57,147.84 64.13,147.98 63.10,148.00 C62.06,148.01 61.39,147.86 60.46,147.72 C59.52,147.59 58.20,147.12 57.50,147.20 C56.79,147.27 56.65,147.86 56.22,148.18 C55.79,148.51 55.13,148.54 54.91,149.16 Z"/></clipPath>
<g filter="url(#lb2)"><g filter="url(#tex)"><path d="M54.91,149.16 C54.69,149.77 54.75,150.93 54.91,151.88 C55.07,152.83 55.53,153.93 55.88,154.88 C56.23,155.83 56.71,156.68 57.01,157.58 C57.31,158.49 57.16,159.31 57.69,160.28 C58.23,161.26 59.41,162.38 60.22,163.43 C61.04,164.47 61.70,165.69 62.59,166.55 C63.48,167.41 64.56,167.88 65.56,168.58 C66.56,169.27 67.47,170.22 68.60,170.70 C69.73,171.18 71.10,171.21 72.33,171.46 C73.55,171.70 74.72,171.78 75.96,172.16 C77.21,172.53 78.51,173.24 79.78,173.68 C81.05,174.11 82.40,174.64 83.60,174.75 C84.80,174.86 85.85,174.45 86.98,174.35 C88.11,174.25 89.49,174.52 90.36,174.17 C91.23,173.82 91.46,172.80 92.22,172.25 C92.99,171.69 94.55,171.63 94.94,170.84 C95.33,170.06 94.43,168.52 94.55,167.54 C94.68,166.55 95.83,166.13 95.69,164.93 C95.55,163.72 94.41,161.82 93.74,160.30 C93.07,158.77 92.23,157.10 91.65,155.76 C91.07,154.43 90.94,153.34 90.27,152.28 C89.61,151.22 88.54,149.96 87.65,149.40 C86.76,148.83 85.83,149.09 84.95,148.88 C84.08,148.67 83.38,148.35 82.39,148.15 C81.40,147.96 80.06,148.09 79.00,147.72 C77.94,147.36 77.06,146.15 76.03,145.97 C74.99,145.79 73.87,146.51 72.81,146.63 C71.76,146.75 70.73,146.54 69.70,146.70 C68.68,146.87 67.78,147.41 66.67,147.63 C65.57,147.84 64.13,147.98 63.10,148.00 C62.06,148.01 61.39,147.86 60.46,147.72 C59.52,147.59 58.20,147.12 57.50,147.20 C56.79,147.27 56.65,147.86 56.22,148.18 C55.79,148.51 55.13,148.54 54.91,149.16 Z" fill="#1e140e"/>
<g clip-path="url(#lc7)"><g filter="url(#lb)">
<ellipse cx="66" cy="153" rx="7" ry="4.5" fill="#f07a5a" opacity="0.9"/>
<ellipse cx="74" cy="158" rx="5" ry="4" fill="#f08460" opacity="0.85"/>
<ellipse cx="83" cy="151.5" rx="4" ry="3" fill="#e87468" opacity="0.85"/>
<ellipse cx="85" cy="156" rx="2" ry="1.6" fill="#3e5a30" opacity="0.6"/>
<ellipse cx="70" cy="166" rx="4" ry="3" fill="#3a3028" opacity="0.4"/>
</g>
<g filter="url(#lb4)">
<circle cx="87.0" cy="154.5" r="0.95" fill="#a89068" opacity="0.48"/>
<circle cx="77.9" cy="165.3" r="0.89" fill="#a89068" opacity="0.26"/>
<circle cx="82.2" cy="158.6" r="0.87" fill="#a89068" opacity="0.48"/>
<circle cx="80.2" cy="167.8" r="0.88" fill="#a89068" opacity="0.46"/>
<circle cx="73.6" cy="156.5" r="1.35" fill="#a89068" opacity="0.48"/>
<circle cx="66.8" cy="151.4" r="1.33" fill="#a89068" opacity="0.31"/>
<circle cx="61.0" cy="152.1" r="0.85" fill="#a89068" opacity="0.30"/>
<circle cx="68.4" cy="155.6" r="1.56" fill="#a89068" opacity="0.32"/>
<circle cx="75.3" cy="152.5" r="1.15" fill="#a89068" opacity="0.25"/>
<circle cx="66.2" cy="148.6" r="1.53" fill="#a89068" opacity="0.39"/>
<circle cx="63.9" cy="159.8" r="1.73" fill="#a89068" opacity="0.28"/>
<circle cx="87.0" cy="158.7" r="1.30" fill="#a89068" opacity="0.46"/>
<circle cx="71.4" cy="160.6" r="1.49" fill="#a89068" opacity="0.50"/>
<circle cx="69.5" cy="168.5" r="1.51" fill="#a89068" opacity="0.41"/>
<circle cx="71.8" cy="156.7" r="0.85" fill="#a89068" opacity="0.28"/>
<circle cx="66.4" cy="152.2" r="0.88" fill="#a89068" opacity="0.46"/>
</g>
</g></g></g>
<text transform="translate(107.80,40.50) scale(1.0,1.04)" font-size="10.4" font-weight="bold" font-style="italic">Stat3<tspan font-size="7.28" dx="0.0" dy="-2.50">fl/fl</tspan></text>
<text transform="translate(107.80,74.60) scale(1.0,1.04)" font-size="10.4" font-weight="bold" font-style="italic">Stat3<tspan font-size="7.28" dx="0.0" dy="-2.50">&#916;/&#916;</tspan></text>
<text transform="translate(107.80,90.20) scale(1.0,1.04)" font-size="10.4" font-weight="bold"><tspan font-style="italic">Ncr1</tspan>-iCreTg</text>
<text transform="translate(107.80,121.10) scale(1.0,1.04)" font-size="10.4" text-anchor="start" font-weight="bold" fill="#000">WT</text>
<text transform="translate(107.80,167.20) scale(1.0,1.04)" font-size="10.4" font-weight="bold"><tspan font-style="italic">Ncr1</tspan>-iCreTg</text>
<line x1="15.10" y1="184.60" x2="35.80" y2="184.60" stroke="#222" stroke-width="1.1" />
<text transform="translate(14.00,195.50) scale(1.0,1.04)" font-size="10.0" text-anchor="start" font-weight="bold" fill="#000">1 cm</text>
<text transform="translate(197.50,93.40) rotate(-90) scale(1.0,1.04)" font-size="9.7" text-anchor="middle" font-weight="bold" fill="#000"># tumor nodules / lung</text>
<line x1="235.25" y1="110.39" x2="235.25" y2="102.12" stroke="#333" stroke-width="1.2" />
<line x1="230.95" y1="102.12" x2="239.55" y2="102.12" stroke="#333" stroke-width="1.2" />
<rect x="227.70" y="110.39" width="15.10" height="33.11" fill="#fff" stroke="#555" stroke-width="1"/>
<line x1="259.15" y1="135.86" x2="259.15" y2="133.63" stroke="#333" stroke-width="1.2" />
<line x1="254.85" y1="133.63" x2="263.45" y2="133.63" stroke="#333" stroke-width="1.2" />
<rect x="251.60" y="135.86" width="15.10" height="7.64" fill="#000" stroke="#000" stroke-width="1"/>
<line x1="283.15" y1="86.20" x2="283.15" y2="79.83" stroke="#333" stroke-width="1.2" />
<line x1="278.85" y1="79.83" x2="287.45" y2="79.83" stroke="#333" stroke-width="1.2" />
<rect x="275.60" y="86.20" width="15.10" height="57.30" fill="#cfcfcf" stroke="#666" stroke-width="1"/>
<line x1="307.05" y1="92.57" x2="307.05" y2="86.20" stroke="#333" stroke-width="1.2" />
<line x1="302.75" y1="86.20" x2="311.35" y2="86.20" stroke="#333" stroke-width="1.2" />
<rect x="299.50" y="92.57" width="15.10" height="50.93" fill="#5c5c5c" stroke="#333" stroke-width="1"/>
<line x1="223.20" y1="47.40" x2="223.20" y2="144.10" stroke="#000" stroke-width="1.4" />
<line x1="222.60" y1="143.50" x2="319.10" y2="143.50" stroke="#000" stroke-width="1.4" />
<line x1="219.80" y1="143.50" x2="223.20" y2="143.50" stroke="#000" stroke-width="1.3" />
<text transform="translate(219.30,146.80) scale(1.0,1.04)" font-size="9.1" text-anchor="end" font-weight="bold" fill="#000">0</text>
<line x1="219.80" y1="111.67" x2="223.20" y2="111.67" stroke="#000" stroke-width="1.3" />
<text transform="translate(219.30,114.97) scale(1.0,1.04)" font-size="9.1" text-anchor="end" font-weight="bold" fill="#000">50</text>
<line x1="219.80" y1="79.83" x2="223.20" y2="79.83" stroke="#000" stroke-width="1.3" />
<text transform="translate(219.30,83.13) scale(1.0,1.04)" font-size="9.1" text-anchor="end" font-weight="bold" fill="#000">100</text>
<line x1="219.80" y1="48.00" x2="223.20" y2="48.00" stroke="#000" stroke-width="1.3" />
<text transform="translate(219.30,51.30) scale(1.0,1.04)" font-size="9.1" text-anchor="end" font-weight="bold" fill="#000">150</text>
<polyline points="235.50,83.60 235.50,81.00 259.40,81.00 259.40,83.60" fill="none" stroke="#444" stroke-width="1.1"/>
<polyline points="259.40,74.50 259.40,71.90 283.30,71.90 283.30,74.50" fill="none" stroke="#444" stroke-width="1.1"/>
<polyline points="259.40,62.70 259.40,60.10 306.80,60.10 306.80,62.70" fill="none" stroke="#444" stroke-width="1.1"/>
<polygon points="245.30,74.90 245.91,76.36 247.49,76.49 246.28,77.52 246.65,79.06 245.30,78.23 243.95,79.06 244.32,77.52 243.11,76.49 244.69,76.36" fill="#000"/>
<polygon points="249.90,74.90 250.51,76.36 252.09,76.49 250.88,77.52 251.25,79.06 249.90,78.23 248.55,79.06 248.92,77.52 247.71,76.49 249.29,76.36" fill="#000"/>
<polygon points="267.20,66.20 267.81,67.66 269.39,67.79 268.18,68.82 268.55,70.36 267.20,69.53 265.85,70.36 266.22,68.82 265.01,67.79 266.59,67.66" fill="#000"/>
<polygon points="271.80,66.20 272.41,67.66 273.99,67.79 272.78,68.82 273.15,70.36 271.80,69.53 270.45,70.36 270.82,68.82 269.61,67.79 271.19,67.66" fill="#000"/>
<polygon points="276.40,66.20 277.01,67.66 278.59,67.79 277.38,68.82 277.75,70.36 276.40,69.53 275.05,70.36 275.42,68.82 274.21,67.79 275.79,67.66" fill="#000"/>
<polygon points="279.10,53.70 279.71,55.16 281.29,55.29 280.08,56.32 280.45,57.86 279.10,57.03 277.75,57.86 278.12,56.32 276.91,55.29 278.49,55.16" fill="#000"/>
<polygon points="283.70,53.70 284.31,55.16 285.89,55.29 284.68,56.32 285.05,57.86 283.70,57.03 282.35,57.86 282.72,56.32 281.51,55.29 283.09,55.16" fill="#000"/>
<rect x="214.4" y="151.85" width="10.5" height="7.4" fill="#fff" stroke="#333" stroke-width="1"/>
<rect x="214.4" y="163.10" width="10.5" height="7.4" fill="#000" stroke="#000" stroke-width="1"/>
<rect x="214.4" y="174.00" width="10.5" height="7.4" fill="#cfcfcf" stroke="#555" stroke-width="1"/>
<rect x="214.4" y="184.90" width="10.5" height="7.4" fill="#5c5c5c" stroke="#333" stroke-width="1"/>
<text transform="translate(231.30,157.90) scale(1.0,1.04)" font-size="9.2" font-weight="bold" font-style="italic">Stat3<tspan font-size="6.44" dx="0.0" dy="-3.68">fl/fl</tspan></text>
<text transform="translate(231.3,170.6) scale(1,1.04)" font-size="9.2" font-weight="bold"><tspan font-style="italic">Stat3</tspan><tspan font-size="6.4" dy="-3.7" font-style="italic">&#916;/&#916;</tspan><tspan dy="3.7"> </tspan><tspan font-style="italic">Ncr1</tspan>-iCreTg</text>
<text transform="translate(231.30,180.60) scale(1.0,1.04)" font-size="9.2" text-anchor="start" font-weight="bold" fill="#000">WT</text>
<text transform="translate(231.30,191.40) scale(1.0,1.04)" font-size="9.2" font-weight="bold"><tspan font-style="italic">Ncr1</tspan>-iCreTg</text>
<text transform="translate(414.80,38.00) scale(1.0,1.04)" font-size="10.2" text-anchor="middle" font-weight="bold" fill="#000">DNAM-1</text>
<line x1="373.30" y1="47.70" x2="373.30" y2="147.30" stroke="#000" stroke-width="1.4" />
<line x1="369.90" y1="143.90" x2="437.50" y2="143.90" stroke="#000" stroke-width="1.4" />
<line x1="369.90" y1="143.90" x2="373.30" y2="143.90" stroke="#000" stroke-width="1.3" />
<text transform="translate(369.90,147.20) scale(1.0,1.04)" font-size="9.1" text-anchor="end" font-weight="bold" fill="#000">55</text>
<line x1="369.90" y1="127.97" x2="373.30" y2="127.97" stroke="#000" stroke-width="1.3" />
<text transform="translate(369.90,131.27) scale(1.0,1.04)" font-size="9.1" text-anchor="end" font-weight="bold" fill="#000">60</text>
<line x1="369.90" y1="112.03" x2="373.30" y2="112.03" stroke="#000" stroke-width="1.3" />
<text transform="translate(369.90,115.33) scale(1.0,1.04)" font-size="9.1" text-anchor="end" font-weight="bold" fill="#000">65</text>
<line x1="369.90" y1="96.10" x2="373.30" y2="96.10" stroke="#000" stroke-width="1.3" />
<text transform="translate(369.90,99.40) scale(1.0,1.04)" font-size="9.1" text-anchor="end" font-weight="bold" fill="#000">70</text>
<line x1="369.90" y1="80.17" x2="373.30" y2="80.17" stroke="#000" stroke-width="1.3" />
<text transform="translate(369.90,83.47) scale(1.0,1.04)" font-size="9.1" text-anchor="end" font-weight="bold" fill="#000">75</text>
<line x1="369.90" y1="64.23" x2="373.30" y2="64.23" stroke="#000" stroke-width="1.3" />
<text transform="translate(369.90,67.53) scale(1.0,1.04)" font-size="9.1" text-anchor="end" font-weight="bold" fill="#000">80</text>
<line x1="369.90" y1="48.30" x2="373.30" y2="48.30" stroke="#000" stroke-width="1.3" />
<text transform="translate(369.90,51.60) scale(1.0,1.04)" font-size="9.1" text-anchor="end" font-weight="bold" fill="#000">85</text>
<line x1="373.30" y1="143.90" x2="373.30" y2="147.30" stroke="#000" stroke-width="1.3" />
<text transform="translate(373.30,156.10) scale(1.0,1.04)" font-size="9.1" text-anchor="middle" font-weight="bold" fill="#000">10</text>
<line x1="394.50" y1="143.90" x2="394.50" y2="147.30" stroke="#000" stroke-width="1.3" />
<text transform="translate(394.50,156.10) scale(1.0,1.04)" font-size="9.1" text-anchor="middle" font-weight="bold" fill="#000">15</text>
<line x1="415.70" y1="143.90" x2="415.70" y2="147.30" stroke="#000" stroke-width="1.3" />
<text transform="translate(415.70,156.10) scale(1.0,1.04)" font-size="9.1" text-anchor="middle" font-weight="bold" fill="#000">20</text>
<line x1="436.90" y1="143.90" x2="436.90" y2="147.30" stroke="#000" stroke-width="1.3" />
<text transform="translate(436.90,156.10) scale(1.0,1.04)" font-size="9.1" text-anchor="middle" font-weight="bold" fill="#000">25</text>
<text transform="translate(405.50,169.30) scale(1.0,1.04)" font-size="9.95" text-anchor="middle" font-weight="bold" fill="#000">days post injection</text>
<text transform="translate(352.3,95.3) rotate(-90) scale(1,1.04)" font-size="10.1" font-weight="bold" text-anchor="middle">% DNAM-1<tspan font-size="6.5" dy="-4">+</tspan><tspan dy="4"> NK cells</tspan></text>
<line x1="386.02" y1="92.59" x2="386.02" y2="104.07" stroke="#333" stroke-width="1.2" />
<line x1="382.42" y1="92.59" x2="389.62" y2="92.59" stroke="#333" stroke-width="1.2" />
<line x1="382.42" y1="104.07" x2="389.62" y2="104.07" stroke="#333" stroke-width="1.2" />
<line x1="415.70" y1="95.78" x2="415.70" y2="109.17" stroke="#333" stroke-width="1.2" />
<line x1="412.10" y1="95.78" x2="419.30" y2="95.78" stroke="#333" stroke-width="1.2" />
<line x1="412.10" y1="109.17" x2="419.30" y2="109.17" stroke="#333" stroke-width="1.2" />
<line x1="432.66" y1="103.11" x2="432.66" y2="116.49" stroke="#333" stroke-width="1.2" />
<line x1="429.06" y1="103.11" x2="436.26" y2="103.11" stroke="#333" stroke-width="1.2" />
<line x1="429.06" y1="116.49" x2="436.26" y2="116.49" stroke="#333" stroke-width="1.2" />
<line x1="386.02" y1="82.72" x2="386.02" y2="96.74" stroke="#333" stroke-width="1.2" />
<line x1="382.42" y1="82.72" x2="389.62" y2="82.72" stroke="#333" stroke-width="1.2" />
<line x1="382.42" y1="96.74" x2="389.62" y2="96.74" stroke="#333" stroke-width="1.2" />
<line x1="415.70" y1="83.67" x2="415.70" y2="98.97" stroke="#333" stroke-width="1.2" />
<line x1="412.10" y1="83.67" x2="419.30" y2="83.67" stroke="#333" stroke-width="1.2" />
<line x1="412.10" y1="98.97" x2="419.30" y2="98.97" stroke="#333" stroke-width="1.2" />
<line x1="432.66" y1="75.07" x2="432.66" y2="93.55" stroke="#333" stroke-width="1.2" />
<line x1="429.06" y1="75.07" x2="436.26" y2="75.07" stroke="#333" stroke-width="1.2" />
<line x1="429.06" y1="93.55" x2="436.26" y2="93.55" stroke="#333" stroke-width="1.2" />
<polyline points="373.30,96.10 386.02,98.33 415.70,102.47 432.66,109.80" fill="none" stroke="#000" stroke-width="2.1" stroke-dasharray="4.2,2.3"/>
<polyline points="373.30,88.77 386.02,89.73 415.70,91.32 432.66,84.31" fill="none" stroke="#000" stroke-width="2.0"/>
<circle cx="386.02" cy="98.33" r="3.8" fill="#fff" stroke="#000" stroke-width="1.1"/>
<circle cx="415.70" cy="102.47" r="3.8" fill="#fff" stroke="#000" stroke-width="1.1"/>
<circle cx="432.66" cy="109.80" r="3.8" fill="#fff" stroke="#000" stroke-width="1.1"/>
<rect x="382.52" y="86.23" width="7.0" height="7.0" fill="#000"/>
<rect x="412.20" y="87.82" width="7.0" height="7.0" fill="#000"/>
<rect x="429.16" y="80.81" width="7.0" height="7.0" fill="#000"/>
<polygon points="433.50,65.40 434.29,67.31 436.35,67.47 434.78,68.82 435.26,70.83 433.50,69.75 431.74,70.83 432.22,68.82 430.65,67.47 432.71,67.31" fill="#000"/>
<line x1="446.80" y1="57.20" x2="456.20" y2="57.20" stroke="#000" stroke-width="1.1" />
<circle cx="451.50" cy="57.20" r="3.1" fill="#fff" stroke="#000" stroke-width="1.0"/>
<line x1="446.80" y1="71.50" x2="456.20" y2="71.50" stroke="#000" stroke-width="1.8" />
<rect x="448.00" y="68.00" width="7.0" height="7.0" fill="#000"/>
<text transform="translate(460.00,61.50) scale(1.0,1.04)" font-size="10.2" font-weight="bold" font-style="italic">Stat3<tspan font-size="7.14" dx="0.8" dy="-3.26">fl/fl</tspan></text>
<text transform="translate(460.00,77.00) scale(1.0,1.04)" font-size="10.2" font-weight="bold" font-style="italic">Stat3<tspan font-size="7.14" dx="0.8" dy="-4.08">&#916;/&#916;</tspan></text>
<text transform="translate(460.00,89.50) scale(1.0,1.04)" font-size="10.2" font-weight="bold"><tspan font-style="italic">Ncr1</tspan>-iCreTg</text>
<text transform="translate(14.10,291.50) rotate(-90) scale(1.0,1.04)" font-size="9.2" text-anchor="middle" font-weight="bold" fill="#000">% specific lysis</text>
<line x1="36.80" y1="247.00" x2="36.80" y2="343.40" stroke="#000" stroke-width="1.4" />
<line x1="36.20" y1="342.80" x2="101.60" y2="342.80" stroke="#000" stroke-width="1.4" />
<line x1="33.40" y1="342.80" x2="36.80" y2="342.80" stroke="#000" stroke-width="1.3" />
<text transform="translate(33.30,346.10) scale(1.0,1.04)" font-size="9.1" text-anchor="end" font-weight="bold" fill="#000">0</text>
<line x1="33.40" y1="323.74" x2="36.80" y2="323.74" stroke="#000" stroke-width="1.3" />
<text transform="translate(33.30,327.04) scale(1.0,1.04)" font-size="9.1" text-anchor="end" font-weight="bold" fill="#000">20</text>
<line x1="33.40" y1="304.68" x2="36.80" y2="304.68" stroke="#000" stroke-width="1.3" />
<text transform="translate(33.30,307.98) scale(1.0,1.04)" font-size="9.1" text-anchor="end" font-weight="bold" fill="#000">40</text>
<line x1="33.40" y1="285.62" x2="36.80" y2="285.62" stroke="#000" stroke-width="1.3" />
<text transform="translate(33.30,288.92) scale(1.0,1.04)" font-size="9.1" text-anchor="end" font-weight="bold" fill="#000">60</text>
<line x1="33.40" y1="266.56" x2="36.80" y2="266.56" stroke="#000" stroke-width="1.3" />
<text transform="translate(33.30,269.86) scale(1.0,1.04)" font-size="9.1" text-anchor="end" font-weight="bold" fill="#000">80</text>
<line x1="33.40" y1="247.50" x2="36.80" y2="247.50" stroke="#000" stroke-width="1.3" />
<text transform="translate(33.30,250.80) scale(1.0,1.04)" font-size="9.1" text-anchor="end" font-weight="bold" fill="#000">100</text>
<line x1="47.90" y1="342.80" x2="47.90" y2="346.20" stroke="#000" stroke-width="1.3" />
<text transform="translate(49.70,354.10) rotate(-45) scale(1.0,1.04)" font-size="9.1" text-anchor="end" font-weight="bold" fill="#000">10:1</text>
<line x1="69.20" y1="342.80" x2="69.20" y2="346.20" stroke="#000" stroke-width="1.3" />
<text transform="translate(71.00,354.10) rotate(-45) scale(1.0,1.04)" font-size="9.1" text-anchor="end" font-weight="bold" fill="#000">5:1</text>
<line x1="90.40" y1="342.80" x2="90.40" y2="346.20" stroke="#000" stroke-width="1.3" />
<text transform="translate(92.20,354.10) rotate(-45) scale(1.0,1.04)" font-size="9.1" text-anchor="end" font-weight="bold" fill="#000">1:1</text>
<text transform="translate(59.30,233.40) scale(1.0,1.04)" font-size="10.1" text-anchor="middle" font-weight="bold" fill="#000">RMA</text>
<line x1="47.90" y1="321.17" x2="47.90" y2="338.32" stroke="#333" stroke-width="1.2" />
<line x1="44.30" y1="321.17" x2="51.50" y2="321.17" stroke="#333" stroke-width="1.2" />
<line x1="44.30" y1="338.32" x2="51.50" y2="338.32" stroke="#333" stroke-width="1.2" />
<polyline points="47.90,339.94 69.20,339.94 90.40,341.85" fill="none" stroke="#000" stroke-width="2.0" stroke-dasharray="4,2.3"/>
<polyline points="47.90,329.74 69.20,338.99 90.40,341.85" fill="none" stroke="#000" stroke-width="2.0"/>
<circle cx="47.90" cy="339.94" r="3.6" fill="#fff" stroke="#000" stroke-width="1.1"/>
<circle cx="69.20" cy="339.94" r="3.6" fill="#fff" stroke="#000" stroke-width="1.1"/>
<circle cx="90.40" cy="341.85" r="3.6" fill="#fff" stroke="#000" stroke-width="1.1"/>
<rect x="44.50" y="326.34" width="6.8" height="6.8" fill="#000"/>
<rect x="65.80" y="335.59" width="6.8" height="6.8" fill="#000"/>
<rect x="87.00" y="338.45" width="6.8" height="6.8" fill="#000"/>
<line x1="121.50" y1="247.00" x2="121.50" y2="343.40" stroke="#000" stroke-width="1.4" />
<line x1="120.90" y1="342.80" x2="186.30" y2="342.80" stroke="#000" stroke-width="1.4" />
<line x1="118.10" y1="342.80" x2="121.50" y2="342.80" stroke="#000" stroke-width="1.3" />
<text transform="translate(118.00,346.10) scale(1.0,1.04)" font-size="9.1" text-anchor="end" font-weight="bold" fill="#000">0</text>
<line x1="118.10" y1="323.74" x2="121.50" y2="323.74" stroke="#000" stroke-width="1.3" />
<text transform="translate(118.00,327.04) scale(1.0,1.04)" font-size="9.1" text-anchor="end" font-weight="bold" fill="#000">20</text>
<line x1="118.10" y1="304.68" x2="121.50" y2="304.68" stroke="#000" stroke-width="1.3" />
<text transform="translate(118.00,307.98) scale(1.0,1.04)" font-size="9.1" text-anchor="end" font-weight="bold" fill="#000">40</text>
<line x1="118.10" y1="285.62" x2="121.50" y2="285.62" stroke="#000" stroke-width="1.3" />
<text transform="translate(118.00,288.92) scale(1.0,1.04)" font-size="9.1" text-anchor="end" font-weight="bold" fill="#000">60</text>
<line x1="118.10" y1="266.56" x2="121.50" y2="266.56" stroke="#000" stroke-width="1.3" />
<text transform="translate(118.00,269.86) scale(1.0,1.04)" font-size="9.1" text-anchor="end" font-weight="bold" fill="#000">80</text>
<line x1="118.10" y1="247.50" x2="121.50" y2="247.50" stroke="#000" stroke-width="1.3" />
<text transform="translate(118.00,250.80) scale(1.0,1.04)" font-size="9.1" text-anchor="end" font-weight="bold" fill="#000">100</text>
<line x1="132.60" y1="342.80" x2="132.60" y2="346.20" stroke="#000" stroke-width="1.3" />
<text transform="translate(134.40,354.10) rotate(-45) scale(1.0,1.04)" font-size="9.1" text-anchor="end" font-weight="bold" fill="#000">10:1</text>
<line x1="153.90" y1="342.80" x2="153.90" y2="346.20" stroke="#000" stroke-width="1.3" />
<text transform="translate(155.70,354.10) rotate(-45) scale(1.0,1.04)" font-size="9.1" text-anchor="end" font-weight="bold" fill="#000">5:1</text>
<line x1="175.10" y1="342.80" x2="175.10" y2="346.20" stroke="#000" stroke-width="1.3" />
<text transform="translate(176.90,354.10) rotate(-45) scale(1.0,1.04)" font-size="9.1" text-anchor="end" font-weight="bold" fill="#000">1:1</text>
<text transform="translate(143.60,233.40) scale(1.0,1.04)" font-size="10.1" text-anchor="middle" font-weight="bold" fill="#000">RMA-Rae1</text>
<polyline points="132.60,278.95 153.90,289.43 175.10,331.36" fill="none" stroke="#000" stroke-width="2.0" stroke-dasharray="4,2.3"/>
<polyline points="132.60,278.95 153.90,298.96 175.10,331.36" fill="none" stroke="#000" stroke-width="2.0"/>
<circle cx="132.60" cy="278.95" r="3.6" fill="#fff" stroke="#000" stroke-width="1.1"/>
<circle cx="153.90" cy="289.43" r="3.6" fill="#fff" stroke="#000" stroke-width="1.1"/>
<circle cx="175.10" cy="331.36" r="3.6" fill="#fff" stroke="#000" stroke-width="1.1"/>
<rect x="129.20" y="275.55" width="6.8" height="6.8" fill="#000"/>
<rect x="150.50" y="295.56" width="6.8" height="6.8" fill="#000"/>
<rect x="171.70" y="327.96" width="6.8" height="6.8" fill="#000"/>
<line x1="206.50" y1="247.00" x2="206.50" y2="343.40" stroke="#000" stroke-width="1.4" />
<line x1="205.90" y1="342.80" x2="271.30" y2="342.80" stroke="#000" stroke-width="1.4" />
<line x1="203.10" y1="342.80" x2="206.50" y2="342.80" stroke="#000" stroke-width="1.3" />
<text transform="translate(203.00,346.10) scale(1.0,1.04)" font-size="9.1" text-anchor="end" font-weight="bold" fill="#000">0</text>
<line x1="203.10" y1="323.74" x2="206.50" y2="323.74" stroke="#000" stroke-width="1.3" />
<text transform="translate(203.00,327.04) scale(1.0,1.04)" font-size="9.1" text-anchor="end" font-weight="bold" fill="#000">20</text>
<line x1="203.10" y1="304.68" x2="206.50" y2="304.68" stroke="#000" stroke-width="1.3" />
<text transform="translate(203.00,307.98) scale(1.0,1.04)" font-size="9.1" text-anchor="end" font-weight="bold" fill="#000">40</text>
<line x1="203.10" y1="285.62" x2="206.50" y2="285.62" stroke="#000" stroke-width="1.3" />
<text transform="translate(203.00,288.92) scale(1.0,1.04)" font-size="9.1" text-anchor="end" font-weight="bold" fill="#000">60</text>
<line x1="203.10" y1="266.56" x2="206.50" y2="266.56" stroke="#000" stroke-width="1.3" />
<text transform="translate(203.00,269.86) scale(1.0,1.04)" font-size="9.1" text-anchor="end" font-weight="bold" fill="#000">80</text>
<line x1="203.10" y1="247.50" x2="206.50" y2="247.50" stroke="#000" stroke-width="1.3" />
<text transform="translate(203.00,250.80) scale(1.0,1.04)" font-size="9.1" text-anchor="end" font-weight="bold" fill="#000">100</text>
<line x1="217.60" y1="342.80" x2="217.60" y2="346.20" stroke="#000" stroke-width="1.3" />
<text transform="translate(219.40,354.10) rotate(-45) scale(1.0,1.04)" font-size="9.1" text-anchor="end" font-weight="bold" fill="#000">10:1</text>
<line x1="238.90" y1="342.80" x2="238.90" y2="346.20" stroke="#000" stroke-width="1.3" />
<text transform="translate(240.70,354.10) rotate(-45) scale(1.0,1.04)" font-size="9.1" text-anchor="end" font-weight="bold" fill="#000">5:1</text>
<line x1="260.10" y1="342.80" x2="260.10" y2="346.20" stroke="#000" stroke-width="1.3" />
<text transform="translate(261.90,354.10) rotate(-45) scale(1.0,1.04)" font-size="9.1" text-anchor="end" font-weight="bold" fill="#000">1:1</text>
<text transform="translate(228.80,233.40) scale(1.0,1.04)" font-size="10.1" text-anchor="middle" font-weight="bold" fill="#000">YAC-1</text>
<line x1="260.10" y1="310.87" x2="260.10" y2="317.55" stroke="#333" stroke-width="1.2" />
<line x1="256.50" y1="310.87" x2="263.70" y2="310.87" stroke="#333" stroke-width="1.2" />
<line x1="256.50" y1="317.55" x2="263.70" y2="317.55" stroke="#333" stroke-width="1.2" />
<polyline points="217.60,269.42 238.90,278.00 260.10,313.26" fill="none" stroke="#000" stroke-width="2.0" stroke-dasharray="4,2.3"/>
<polyline points="217.60,273.23 238.90,279.90 260.10,314.21" fill="none" stroke="#000" stroke-width="2.0"/>
<circle cx="217.60" cy="269.42" r="3.6" fill="#fff" stroke="#000" stroke-width="1.1"/>
<circle cx="238.90" cy="278.00" r="3.6" fill="#fff" stroke="#000" stroke-width="1.1"/>
<circle cx="260.10" cy="313.26" r="3.6" fill="#fff" stroke="#000" stroke-width="1.1"/>
<rect x="214.20" y="269.83" width="6.8" height="6.8" fill="#000"/>
<rect x="235.50" y="276.50" width="6.8" height="6.8" fill="#000"/>
<rect x="256.70" y="310.81" width="6.8" height="6.8" fill="#000"/>
<line x1="292.00" y1="247.00" x2="292.00" y2="343.40" stroke="#000" stroke-width="1.4" />
<line x1="291.40" y1="342.80" x2="356.80" y2="342.80" stroke="#000" stroke-width="1.4" />
<line x1="288.60" y1="342.80" x2="292.00" y2="342.80" stroke="#000" stroke-width="1.3" />
<text transform="translate(288.50,346.10) scale(1.0,1.04)" font-size="9.1" text-anchor="end" font-weight="bold" fill="#000">0</text>
<line x1="288.60" y1="323.74" x2="292.00" y2="323.74" stroke="#000" stroke-width="1.3" />
<text transform="translate(288.50,327.04) scale(1.0,1.04)" font-size="9.1" text-anchor="end" font-weight="bold" fill="#000">20</text>
<line x1="288.60" y1="304.68" x2="292.00" y2="304.68" stroke="#000" stroke-width="1.3" />
<text transform="translate(288.50,307.98) scale(1.0,1.04)" font-size="9.1" text-anchor="end" font-weight="bold" fill="#000">40</text>
<line x1="288.60" y1="285.62" x2="292.00" y2="285.62" stroke="#000" stroke-width="1.3" />
<text transform="translate(288.50,288.92) scale(1.0,1.04)" font-size="9.1" text-anchor="end" font-weight="bold" fill="#000">60</text>
<line x1="288.60" y1="266.56" x2="292.00" y2="266.56" stroke="#000" stroke-width="1.3" />
<text transform="translate(288.50,269.86) scale(1.0,1.04)" font-size="9.1" text-anchor="end" font-weight="bold" fill="#000">80</text>
<line x1="288.60" y1="247.50" x2="292.00" y2="247.50" stroke="#000" stroke-width="1.3" />
<text transform="translate(288.50,250.80) scale(1.0,1.04)" font-size="9.1" text-anchor="end" font-weight="bold" fill="#000">100</text>
<line x1="303.10" y1="342.80" x2="303.10" y2="346.20" stroke="#000" stroke-width="1.3" />
<text transform="translate(304.90,354.10) rotate(-45) scale(1.0,1.04)" font-size="9.1" text-anchor="end" font-weight="bold" fill="#000">7.5:1</text>
<line x1="324.40" y1="342.80" x2="324.40" y2="346.20" stroke="#000" stroke-width="1.3" />
<text transform="translate(326.20,354.10) rotate(-45) scale(1.0,1.04)" font-size="9.1" text-anchor="end" font-weight="bold" fill="#000">5:1</text>
<line x1="345.60" y1="342.80" x2="345.60" y2="346.20" stroke="#000" stroke-width="1.3" />
<text transform="translate(347.40,354.10) rotate(-45) scale(1.0,1.04)" font-size="9.1" text-anchor="end" font-weight="bold" fill="#000">1:1</text>
<text transform="translate(314.60,233.40) scale(1.0,1.04)" font-size="10.1" text-anchor="middle" font-weight="bold" font-style="italic" fill="#000">v-abl</text>
<polyline points="303.10,297.06 324.40,304.68 345.60,323.26" fill="none" stroke="#000" stroke-width="2.0" stroke-dasharray="4,2.3"/>
<polyline points="303.10,299.92 324.40,306.59 345.60,324.41" fill="none" stroke="#000" stroke-width="2.0"/>
<circle cx="303.10" cy="297.06" r="3.6" fill="#fff" stroke="#000" stroke-width="1.1"/>
<circle cx="324.40" cy="304.68" r="3.6" fill="#fff" stroke="#000" stroke-width="1.1"/>
<circle cx="345.60" cy="323.26" r="3.6" fill="#fff" stroke="#000" stroke-width="1.1"/>
<rect x="299.70" y="296.52" width="6.8" height="6.8" fill="#000"/>
<rect x="321.00" y="303.19" width="6.8" height="6.8" fill="#000"/>
<rect x="342.20" y="321.01" width="6.8" height="6.8" fill="#000"/>
<line x1="371.80" y1="247.00" x2="371.80" y2="343.40" stroke="#000" stroke-width="1.4" />
<line x1="371.20" y1="342.80" x2="436.60" y2="342.80" stroke="#000" stroke-width="1.4" />
<line x1="368.40" y1="342.80" x2="371.80" y2="342.80" stroke="#000" stroke-width="1.3" />
<text transform="translate(368.30,346.10) scale(1.0,1.04)" font-size="9.1" text-anchor="end" font-weight="bold" fill="#000">0</text>
<line x1="368.40" y1="311.03" x2="371.80" y2="311.03" stroke="#000" stroke-width="1.3" />
<text transform="translate(368.30,314.33) scale(1.0,1.04)" font-size="9.1" text-anchor="end" font-weight="bold" fill="#000">10</text>
<line x1="368.40" y1="279.27" x2="371.80" y2="279.27" stroke="#000" stroke-width="1.3" />
<text transform="translate(368.30,282.57) scale(1.0,1.04)" font-size="9.1" text-anchor="end" font-weight="bold" fill="#000">20</text>
<line x1="368.40" y1="247.50" x2="371.80" y2="247.50" stroke="#000" stroke-width="1.3" />
<text transform="translate(368.30,250.80) scale(1.0,1.04)" font-size="9.1" text-anchor="end" font-weight="bold" fill="#000">30</text>
<line x1="382.90" y1="342.80" x2="382.90" y2="346.20" stroke="#000" stroke-width="1.3" />
<text transform="translate(384.70,354.10) rotate(-45) scale(1.0,1.04)" font-size="9.1" text-anchor="end" font-weight="bold" fill="#000">7:1</text>
<line x1="404.20" y1="342.80" x2="404.20" y2="346.20" stroke="#000" stroke-width="1.3" />
<text transform="translate(406.00,354.10) rotate(-45) scale(1.0,1.04)" font-size="9.1" text-anchor="end" font-weight="bold" fill="#000">5:1</text>
<line x1="425.40" y1="342.80" x2="425.40" y2="346.20" stroke="#000" stroke-width="1.3" />
<text transform="translate(427.20,354.10) rotate(-45) scale(1.0,1.04)" font-size="9.1" text-anchor="end" font-weight="bold" fill="#000">1:1</text>
<text transform="translate(396.50,233.40) scale(1.0,1.04)" font-size="10.1" text-anchor="middle" font-weight="bold" fill="#000">B16F10</text>
<line x1="382.90" y1="290.07" x2="382.90" y2="306.59" stroke="#333" stroke-width="1.2" />
<line x1="379.30" y1="290.07" x2="386.50" y2="290.07" stroke="#333" stroke-width="1.2" />
<line x1="379.30" y1="306.59" x2="386.50" y2="306.59" stroke="#333" stroke-width="1.2" />
<polyline points="382.90,298.33 404.20,307.86 425.40,338.99" fill="none" stroke="#000" stroke-width="2.0" stroke-dasharray="4,2.3"/>
<polyline points="382.90,272.91 404.20,300.55 425.40,334.86" fill="none" stroke="#000" stroke-width="2.0"/>
<circle cx="382.90" cy="298.33" r="3.6" fill="#fff" stroke="#000" stroke-width="1.1"/>
<circle cx="404.20" cy="307.86" r="3.6" fill="#fff" stroke="#000" stroke-width="1.1"/>
<circle cx="425.40" cy="338.99" r="3.6" fill="#fff" stroke="#000" stroke-width="1.1"/>
<rect x="379.50" y="269.51" width="6.8" height="6.8" fill="#000"/>
<rect x="400.80" y="297.15" width="6.8" height="6.8" fill="#000"/>
<rect x="422.00" y="331.46" width="6.8" height="6.8" fill="#000"/>
<polygon points="383.20,261.00 383.89,262.65 385.67,262.80 384.31,263.96 384.73,265.70 383.20,264.77 381.67,265.70 382.09,263.96 380.73,262.80 382.51,262.65" fill="#000"/>
<polygon points="404.80,287.10 405.49,288.75 407.27,288.90 405.91,290.06 406.33,291.80 404.80,290.87 403.27,291.80 403.69,290.06 402.33,288.90 404.11,288.75" fill="#000"/>
<polygon points="425.50,320.50 426.19,322.15 427.97,322.30 426.61,323.46 427.03,325.20 425.50,324.27 423.97,325.20 424.39,323.46 423.03,322.30 424.81,322.15" fill="#000"/>
<text transform="translate(185.90,376.60) scale(1.0,1.04)" font-size="11.6" text-anchor="start" font-weight="bold" fill="#000">E:T ratio</text>
<line x1="443.00" y1="255.40" x2="452.40" y2="255.40" stroke="#000" stroke-width="1.1" />
<circle cx="447.70" cy="255.40" r="3.1" fill="#fff" stroke="#000" stroke-width="1.0"/>
<line x1="443.00" y1="266.20" x2="452.40" y2="266.20" stroke="#000" stroke-width="1.8" />
<rect x="444.20" y="262.70" width="7.0" height="7.0" fill="#000"/>
<text transform="translate(460.00,259.20) scale(1.0,1.04)" font-size="9.1" font-weight="bold" font-style="italic">Stat3<tspan font-size="6.37" dx="0.0" dy="-3.28">fl/fl</tspan></text>
<text transform="translate(460.00,270.00) scale(1.0,1.04)" font-size="9.1" font-weight="bold" font-style="italic">Stat3<tspan font-size="6.37" dx="0.0" dy="-2.55">&#916;/&#916;</tspan></text>
<text transform="translate(460.00,281.50) scale(1.0,1.04)" font-size="9.1" font-weight="bold"><tspan font-style="italic">Ncr1</tspan>-iCreTg</text>
<text transform="translate(113.70,415.60) scale(1.06,1.04)" font-size="9.6" text-anchor="middle" font-weight="bold" fill="#000">CD155</text>
<rect x="57.50" y="434.80" width="2.15" height="10.0" fill="#fff" stroke="#555" stroke-width="1"/>
<line x1="54.70" y1="439.80" x2="57.50" y2="439.80" stroke="#000" stroke-width="1.2" />
<text transform="translate(50.50,443.20) scale(1.06,1.04)" font-size="9.6" text-anchor="end" font-weight="bold" fill="#000">RMA</text>
<rect x="57.50" y="450.75" width="1.91" height="10.0" fill="#fff" stroke="#555" stroke-width="1"/>
<line x1="54.70" y1="455.75" x2="57.50" y2="455.75" stroke="#000" stroke-width="1.2" />
<text transform="translate(52.20,459.15) scale(1.06,1.04)" font-size="9.6" text-anchor="end" font-weight="bold" fill="#000">RMA-Rae1</text>
<rect x="57.50" y="466.70" width="24.41" height="10.0" fill="#fff" stroke="#555" stroke-width="1"/>
<line x1="54.70" y1="471.70" x2="57.50" y2="471.70" stroke="#000" stroke-width="1.2" />
<text transform="translate(52.20,475.10) scale(1.06,1.04)" font-size="9.6" text-anchor="end" font-weight="bold" fill="#000">YAC-1</text>
<rect x="57.50" y="482.65" width="26.81" height="10.0" fill="#fff" stroke="#555" stroke-width="1"/>
<line x1="54.70" y1="487.65" x2="57.50" y2="487.65" stroke="#000" stroke-width="1.2" />
<text transform="translate(52.20,491.05) scale(1.06,1.04)" font-size="9.6" text-anchor="end" font-weight="bold" fill="#000">v-abl #1</text>
<rect x="57.50" y="498.60" width="6.70" height="10.0" fill="#fff" stroke="#555" stroke-width="1"/>
<line x1="54.70" y1="503.60" x2="57.50" y2="503.60" stroke="#000" stroke-width="1.2" />
<text transform="translate(52.20,507.00) scale(1.06,1.04)" font-size="9.6" text-anchor="end" font-weight="bold" fill="#000">v-abl #2</text>
<rect x="57.50" y="514.55" width="125.89" height="10.0" fill="#fff" stroke="#555" stroke-width="1"/>
<line x1="54.70" y1="519.55" x2="57.50" y2="519.55" stroke="#000" stroke-width="1.2" />
<text transform="translate(52.20,522.95) scale(1.06,1.04)" font-size="9.6" text-anchor="end" font-weight="bold" fill="#000">B16F10</text>
<line x1="57.50" y1="431.20" x2="57.50" y2="527.50" stroke="#000" stroke-width="1.4" />
<line x1="56.90" y1="526.90" x2="201.70" y2="526.90" stroke="#000" stroke-width="1.4" />
<line x1="57.50" y1="526.90" x2="57.50" y2="530.10" stroke="#000" stroke-width="1.3" />
<text transform="translate(57.50,539.70) scale(1.06,1.04)" font-size="9.1" text-anchor="middle" font-weight="bold" fill="#000">0</text>
<line x1="105.37" y1="526.90" x2="105.37" y2="530.10" stroke="#000" stroke-width="1.3" />
<text transform="translate(105.37,539.70) scale(1.06,1.04)" font-size="9.1" text-anchor="middle" font-weight="bold" fill="#000">10</text>
<line x1="153.23" y1="526.90" x2="153.23" y2="530.10" stroke="#000" stroke-width="1.3" />
<text transform="translate(153.23,539.70) scale(1.06,1.04)" font-size="9.1" text-anchor="middle" font-weight="bold" fill="#000">20</text>
<line x1="201.10" y1="526.90" x2="201.10" y2="530.10" stroke="#000" stroke-width="1.3" />
<text transform="translate(201.10,539.70) scale(1.06,1.04)" font-size="9.1" text-anchor="middle" font-weight="bold" fill="#000">30</text>
<text transform="translate(129.30,556.40) scale(1.06,1.04)" font-size="9.6" text-anchor="middle" font-weight="bold" fill="#000">MFI x 1,000</text>
<text transform="translate(334.80,417.50) scale(1.0,1.04)" font-size="10.1" text-anchor="middle" font-weight="bold" fill="#000">B16F10</text>
<text transform="translate(273.70,474.80) rotate(-90) scale(1.0,1.04)" font-size="8.9" text-anchor="middle" font-weight="bold" fill="#000">% specific lysis</text>
<line x1="294.00" y1="430.70" x2="294.00" y2="526.50" stroke="#000" stroke-width="1.4" />
<line x1="293.40" y1="525.90" x2="388.40" y2="525.90" stroke="#000" stroke-width="1.4" />
<line x1="290.60" y1="525.90" x2="294.00" y2="525.90" stroke="#000" stroke-width="1.3" />
<text transform="translate(290.20,529.20) scale(1.0,1.04)" font-size="9.1" text-anchor="end" font-weight="bold" fill="#000">0</text>
<line x1="290.60" y1="506.96" x2="294.00" y2="506.96" stroke="#000" stroke-width="1.3" />
<text transform="translate(290.20,510.26) scale(1.0,1.04)" font-size="9.1" text-anchor="end" font-weight="bold" fill="#000">10</text>
<line x1="290.60" y1="488.02" x2="294.00" y2="488.02" stroke="#000" stroke-width="1.3" />
<text transform="translate(290.20,491.32) scale(1.0,1.04)" font-size="9.1" text-anchor="end" font-weight="bold" fill="#000">20</text>
<line x1="290.60" y1="469.08" x2="294.00" y2="469.08" stroke="#000" stroke-width="1.3" />
<text transform="translate(290.20,472.38) scale(1.0,1.04)" font-size="9.1" text-anchor="end" font-weight="bold" fill="#000">30</text>
<line x1="290.60" y1="450.14" x2="294.00" y2="450.14" stroke="#000" stroke-width="1.3" />
<text transform="translate(290.20,453.44) scale(1.0,1.04)" font-size="9.1" text-anchor="end" font-weight="bold" fill="#000">40</text>
<line x1="290.60" y1="431.20" x2="294.00" y2="431.20" stroke="#000" stroke-width="1.3" />
<text transform="translate(290.20,434.50) scale(1.0,1.04)" font-size="9.1" text-anchor="end" font-weight="bold" fill="#000">50</text>
<line x1="310.60" y1="525.90" x2="310.60" y2="529.30" stroke="#000" stroke-width="1.3" />
<text transform="translate(312.40,537.60) rotate(-45) scale(1.0,1.04)" font-size="9.1" text-anchor="end" font-weight="bold" fill="#000">7.5:1</text>
<line x1="342.00" y1="525.90" x2="342.00" y2="529.30" stroke="#000" stroke-width="1.3" />
<text transform="translate(343.80,537.60) rotate(-45) scale(1.0,1.04)" font-size="9.1" text-anchor="end" font-weight="bold" fill="#000">5:1</text>
<line x1="374.20" y1="525.90" x2="374.20" y2="529.30" stroke="#000" stroke-width="1.3" />
<text transform="translate(376.00,537.60) rotate(-45) scale(1.0,1.04)" font-size="9.1" text-anchor="end" font-weight="bold" fill="#000">1:1</text>
<text transform="translate(342.10,565.20) scale(1.0,1.04)" font-size="10.3" text-anchor="middle" font-weight="bold" fill="#000">E:T ratio</text>
<polyline points="310.60,464.34 342.00,487.07 374.20,516.43" fill="none" stroke="#000" stroke-width="2.0" stroke-dasharray="4,2.3"/>
<polyline points="310.60,450.14 342.00,468.13 374.20,512.64" fill="none" stroke="#000" stroke-width="2.0"/>
<polyline points="310.60,506.96 342.00,511.69 374.20,522.11" fill="none" stroke="#555" stroke-width="1.0" stroke-dasharray="2,1.5"/>
<polyline points="310.60,506.01 342.00,512.64 374.20,521.16" fill="none" stroke="#000" stroke-width="2.0"/>
<polygon points="310.60,503.36 314.20,509.84 307.00,509.84" fill="#fff" stroke="#555" stroke-width="0.9"/>
<polygon points="342.00,508.09 345.60,514.58 338.40,514.58" fill="#fff" stroke="#555" stroke-width="0.9"/>
<polygon points="374.20,518.51 377.80,524.99 370.60,524.99" fill="#fff" stroke="#555" stroke-width="0.9"/>
<polygon points="307.00,503.13 314.20,503.13 310.60,509.61" fill="#000"/>
<polygon points="338.40,509.76 345.60,509.76 342.00,516.24" fill="#000"/>
<polygon points="370.60,518.28 377.80,518.28 374.20,524.76" fill="#000"/>
<circle cx="310.60" cy="464.34" r="3.6" fill="#fff" stroke="#000" stroke-width="1.2"/>
<circle cx="310.60" cy="464.34" r="0.9" fill="#000"/>
<circle cx="342.00" cy="487.07" r="3.6" fill="#fff" stroke="#000" stroke-width="1.2"/>
<circle cx="342.00" cy="487.07" r="0.9" fill="#000"/>
<circle cx="374.20" cy="516.43" r="3.6" fill="#fff" stroke="#000" stroke-width="1.2"/>
<circle cx="374.20" cy="516.43" r="0.9" fill="#000"/>
<rect x="307.30" y="446.84" width="6.6" height="6.6" fill="#000"/>
<rect x="338.70" y="464.83" width="6.6" height="6.6" fill="#000"/>
<rect x="370.90" y="509.34" width="6.6" height="6.6" fill="#000"/>
<polygon points="310.60,437.90 311.31,439.62 313.17,439.77 311.76,440.98 312.19,442.78 310.60,441.81 309.01,442.78 309.44,440.98 308.03,439.77 309.89,439.62" fill="#000"/>
<polygon points="339.90,455.60 340.61,457.32 342.47,457.47 341.06,458.68 341.49,460.48 339.90,459.51 338.31,460.48 338.74,458.68 337.33,457.47 339.19,457.32" fill="#000"/>
<polygon points="345.10,455.60 345.81,457.32 347.67,457.47 346.26,458.68 346.69,460.48 345.10,459.51 343.51,460.48 343.94,458.68 342.53,457.47 344.39,457.32" fill="#000"/>
<circle cx="397.50" cy="432.90" r="3.4" fill="#fff" stroke="#000" stroke-width="1.1"/>
<circle cx="397.50" cy="432.90" r="0.9" fill="#000"/>
<line x1="393.00" y1="447.00" x2="402.00" y2="447.00" stroke="#000" stroke-width="1.8" />
<rect x="394.20" y="443.70" width="6.6" height="6.6" fill="#000"/>
<line x1="393.00" y1="483.30" x2="402.00" y2="483.30" stroke="#555" stroke-width="0.8" stroke-dasharray="1.5,1.5"/>
<polygon points="398.30,480.00 401.60,485.94 395.00,485.94" fill="#fff" stroke="#555" stroke-width="0.9"/>
<line x1="393.00" y1="496.20" x2="402.00" y2="496.20" stroke="#000" stroke-width="1.8" />
<polygon points="394.70,493.56 401.30,493.56 398.00,499.50" fill="#000"/>
<text transform="translate(408.30,435.60) scale(1.0,1.04)" font-size="9.4" font-weight="bold" font-style="italic">Stat3<tspan font-size="6.58" dx="0.0" dy="-3.38">fl/fl</tspan></text>
<text transform="translate(408.30,449.60) scale(1.0,1.04)" font-size="9.4" font-weight="bold" font-style="italic">Stat3<tspan font-size="6.58" dx="0.0" dy="-2.82">&#916;/&#916;</tspan></text>
<text transform="translate(408.30,462.50) scale(1.0,1.04)" font-size="9.4" font-weight="bold"><tspan font-style="italic">Ncr1</tspan>-iCreTg</text>
<text transform="translate(408.30,486.00) scale(1.0,1.04)" font-size="9.4" font-weight="bold" font-style="italic">Stat3<tspan font-size="6.58" dx="0.0" dy="-3.38">fl/fl</tspan></text>
<text transform="translate(408.30,499.40) scale(1.0,1.04)" font-size="9.4" font-weight="bold" font-style="italic">Stat3<tspan font-size="6.58" dx="0.0" dy="-2.82">&#916;/&#916;</tspan></text>
<text transform="translate(408.30,511.50) scale(1.0,1.04)" font-size="9.4" font-weight="bold"><tspan font-style="italic">Ncr1</tspan>-iCreTg</text>
<polyline points="461.8,476.0 465.6,476.0 465.6,514.2 461.8,514.2" fill="none" stroke="#000" stroke-width="1.2"/>
<text transform="translate(468.90,499.20) scale(1.0,1.04)" font-size="8.8" text-anchor="start" font-weight="bold" fill="#000">+ <tspan font-weight="normal" font-family="Liberation Serif" font-size="10" style="stroke-width:0.1px">&#945;</tspan>-DNAM-1</text>
</g>
</svg>
</body></html>
